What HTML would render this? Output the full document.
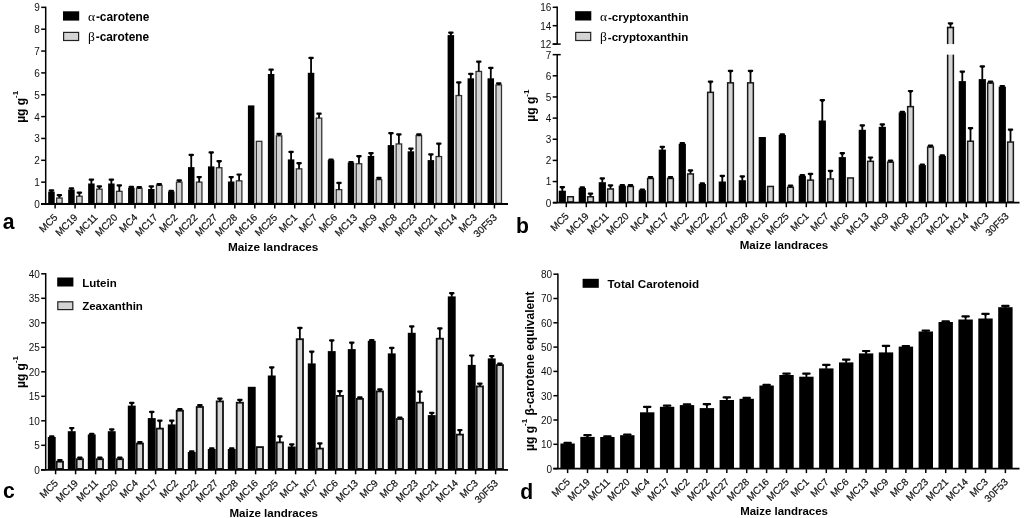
<!DOCTYPE html>
<html><head><meta charset="utf-8"><style>
html,body{margin:0;padding:0;background:#fff;}
body{width:1024px;height:518px;overflow:hidden;}
svg{display:block;will-change:transform;}
text{font-family:"Liberation Sans",sans-serif;fill:#000;}
.tk{font-size:10px;fill:#111;}
.xl{font-size:10px;fill:#111;stroke:#111;stroke-width:0.2px;}
.lg{font-size:12px;font-weight:bold;}
.sym{font-family:"Liberation Serif",serif;font-weight:normal;font-size:13.5px;}
.at{font-size:12px;font-weight:bold;}
.pl{font-size:22.5px;font-weight:bold;}
.yt{font-size:12px;font-weight:bold;}
.sup{font-size:8px;}
</style></head><body>
<svg width="1024" height="518" viewBox="0 0 1024 518">
<line x1="45.7" y1="6.65" x2="45.7" y2="204" stroke="#000" stroke-width="1.5"/>
<line x1="41.2" y1="204" x2="45.7" y2="204" stroke="#000" stroke-width="1.5"/>
<text x="39.9" y="207.9" class="tk" text-anchor="end">0</text>
<line x1="41.2" y1="182.15" x2="45.7" y2="182.15" stroke="#000" stroke-width="1.5"/>
<text x="39.9" y="186.05" class="tk" text-anchor="end">1</text>
<line x1="41.2" y1="160.3" x2="45.7" y2="160.3" stroke="#000" stroke-width="1.5"/>
<text x="39.9" y="164.2" class="tk" text-anchor="end">2</text>
<line x1="41.2" y1="138.45" x2="45.7" y2="138.45" stroke="#000" stroke-width="1.5"/>
<text x="39.9" y="142.35" class="tk" text-anchor="end">3</text>
<line x1="41.2" y1="116.6" x2="45.7" y2="116.6" stroke="#000" stroke-width="1.5"/>
<text x="39.9" y="120.5" class="tk" text-anchor="end">4</text>
<line x1="41.2" y1="94.75" x2="45.7" y2="94.75" stroke="#000" stroke-width="1.5"/>
<text x="39.9" y="98.65" class="tk" text-anchor="end">5</text>
<line x1="41.2" y1="72.9" x2="45.7" y2="72.9" stroke="#000" stroke-width="1.5"/>
<text x="39.9" y="76.8" class="tk" text-anchor="end">6</text>
<line x1="41.2" y1="51.05" x2="45.7" y2="51.05" stroke="#000" stroke-width="1.5"/>
<text x="39.9" y="54.95" class="tk" text-anchor="end">7</text>
<line x1="41.2" y1="29.2" x2="45.7" y2="29.2" stroke="#000" stroke-width="1.5"/>
<text x="39.9" y="33.1" class="tk" text-anchor="end">8</text>
<line x1="41.2" y1="7.35" x2="45.7" y2="7.35" stroke="#000" stroke-width="1.5"/>
<text x="39.9" y="11.25" class="tk" text-anchor="end">9</text>
<rect x="48.2" y="191.6" width="6.5" height="12.4" fill="#000"/>
<line x1="51.45" y1="192.1" x2="51.45" y2="190.4" stroke="#000" stroke-width="1.8"/>
<rect x="48.7" y="189.3" width="5.5" height="2.2" rx="1" fill="#000"/>
<path d="M49.75 191.3L53.15 191.3L52.35 192.1L50.55 192.1Z" fill="#000"/>
<rect x="56.65" y="198.05" width="5.5" height="5.3" fill="#d4d4d4" stroke="#333" stroke-width="1.3"/>
<line x1="59.4" y1="197.9" x2="59.4" y2="195.1" stroke="#000" stroke-width="1.8"/>
<rect x="56.65" y="194" width="5.5" height="2.2" rx="1" fill="#000"/>
<path d="M57.7 196L61.1 196L60.3 196.8L58.5 196.8Z" fill="#000"/>
<rect x="68.17" y="189.5" width="6.5" height="14.5" fill="#000"/>
<line x1="71.42" y1="190" x2="71.42" y2="188.3" stroke="#000" stroke-width="1.8"/>
<rect x="68.67" y="187.2" width="5.5" height="2.2" rx="1" fill="#000"/>
<path d="M69.72 189.2L73.12 189.2L72.32 190L70.52 190Z" fill="#000"/>
<rect x="76.62" y="196.25" width="5.5" height="7.1" fill="#d4d4d4" stroke="#333" stroke-width="1.3"/>
<line x1="79.37" y1="196.1" x2="79.37" y2="192.6" stroke="#000" stroke-width="1.8"/>
<rect x="76.62" y="191.5" width="5.5" height="2.2" rx="1" fill="#000"/>
<path d="M77.67 193.5L81.07 193.5L80.27 194.3L78.47 194.3Z" fill="#000"/>
<rect x="88.14" y="183.5" width="6.5" height="20.5" fill="#000"/>
<line x1="91.39" y1="184" x2="91.39" y2="179.6" stroke="#000" stroke-width="1.8"/>
<rect x="88.64" y="178.5" width="5.5" height="2.2" rx="1" fill="#000"/>
<path d="M89.69 180.5L93.09 180.5L92.29 181.3L90.49 181.3Z" fill="#000"/>
<rect x="96.59" y="189.15" width="5.5" height="14.2" fill="#d4d4d4" stroke="#333" stroke-width="1.3"/>
<line x1="99.34" y1="189" x2="99.34" y2="186.3" stroke="#000" stroke-width="1.8"/>
<rect x="96.59" y="185.2" width="5.5" height="2.2" rx="1" fill="#000"/>
<path d="M97.64 187.2L101.04 187.2L100.24 188L98.44 188Z" fill="#000"/>
<rect x="108.11" y="183.5" width="6.5" height="20.5" fill="#000"/>
<line x1="111.36" y1="184" x2="111.36" y2="179.6" stroke="#000" stroke-width="1.8"/>
<rect x="108.61" y="178.5" width="5.5" height="2.2" rx="1" fill="#000"/>
<path d="M109.66 180.5L113.06 180.5L112.26 181.3L110.46 181.3Z" fill="#000"/>
<rect x="116.56" y="191.35" width="5.5" height="12" fill="#d4d4d4" stroke="#333" stroke-width="1.3"/>
<line x1="119.31" y1="191.2" x2="119.31" y2="185.3" stroke="#000" stroke-width="1.8"/>
<rect x="116.56" y="184.2" width="5.5" height="2.2" rx="1" fill="#000"/>
<path d="M117.61 186.2L121.01 186.2L120.21 187L118.41 187Z" fill="#000"/>
<rect x="128.08" y="187.7" width="6.5" height="16.3" fill="#000"/>
<line x1="131.33" y1="188.2" x2="131.33" y2="186.8" stroke="#000" stroke-width="1.8"/>
<rect x="128.58" y="185.7" width="5.5" height="2.2" rx="1" fill="#000"/>
<path d="M129.63 187.7L133.03 187.7L132.23 188.5L130.43 188.5Z" fill="#000"/>
<rect x="136.53" y="188.35" width="5.5" height="15" fill="#d4d4d4" stroke="#333" stroke-width="1.3"/>
<line x1="139.28" y1="188.2" x2="139.28" y2="187.1" stroke="#000" stroke-width="1.8"/>
<rect x="136.53" y="186" width="5.5" height="2.2" rx="1" fill="#000"/>
<path d="M137.58 188L140.98 188L140.18 188.8L138.38 188.8Z" fill="#000"/>
<rect x="148.05" y="189" width="6.5" height="15" fill="#000"/>
<line x1="151.3" y1="189.5" x2="151.3" y2="186.3" stroke="#000" stroke-width="1.8"/>
<rect x="148.55" y="185.2" width="5.5" height="2.2" rx="1" fill="#000"/>
<path d="M149.6 187.2L153 187.2L152.2 188L150.4 188Z" fill="#000"/>
<rect x="156.5" y="185.35" width="5.5" height="18" fill="#d4d4d4" stroke="#333" stroke-width="1.3"/>
<line x1="159.25" y1="185.2" x2="159.25" y2="184.1" stroke="#000" stroke-width="1.8"/>
<rect x="156.5" y="183" width="5.5" height="2.2" rx="1" fill="#000"/>
<path d="M157.55 185L160.95 185L160.15 185.8L158.35 185.8Z" fill="#000"/>
<rect x="168.02" y="191.5" width="6.5" height="12.5" fill="#000"/>
<line x1="171.27" y1="192" x2="171.27" y2="190.9" stroke="#000" stroke-width="1.8"/>
<rect x="168.52" y="189.8" width="5.5" height="2.2" rx="1" fill="#000"/>
<path d="M169.57 191.8L172.97 191.8L172.17 192.6L170.37 192.6Z" fill="#000"/>
<rect x="176.47" y="182.15" width="5.5" height="21.2" fill="#d4d4d4" stroke="#333" stroke-width="1.3"/>
<line x1="179.22" y1="182" x2="179.22" y2="180.3" stroke="#000" stroke-width="1.8"/>
<rect x="176.47" y="179.2" width="5.5" height="2.2" rx="1" fill="#000"/>
<path d="M177.52 181.2L180.92 181.2L180.12 182L178.32 182Z" fill="#000"/>
<rect x="187.99" y="167.1" width="6.5" height="36.9" fill="#000"/>
<line x1="191.24" y1="167.6" x2="191.24" y2="154.9" stroke="#000" stroke-width="1.8"/>
<rect x="188.49" y="153.8" width="5.5" height="2.2" rx="1" fill="#000"/>
<path d="M189.54 155.8L192.94 155.8L192.14 156.6L190.34 156.6Z" fill="#000"/>
<rect x="196.44" y="182.15" width="5.5" height="21.2" fill="#d4d4d4" stroke="#333" stroke-width="1.3"/>
<line x1="199.19" y1="182" x2="199.19" y2="177" stroke="#000" stroke-width="1.8"/>
<rect x="196.44" y="175.9" width="5.5" height="2.2" rx="1" fill="#000"/>
<path d="M197.49 177.9L200.89 177.9L200.09 178.7L198.29 178.7Z" fill="#000"/>
<rect x="207.96" y="166.4" width="6.5" height="37.6" fill="#000"/>
<line x1="211.21" y1="166.9" x2="211.21" y2="152.4" stroke="#000" stroke-width="1.8"/>
<rect x="208.46" y="151.3" width="5.5" height="2.2" rx="1" fill="#000"/>
<path d="M209.51 153.3L212.91 153.3L212.11 154.1L210.31 154.1Z" fill="#000"/>
<rect x="216.41" y="167.75" width="5.5" height="35.6" fill="#d4d4d4" stroke="#333" stroke-width="1.3"/>
<line x1="219.16" y1="167.6" x2="219.16" y2="161.2" stroke="#000" stroke-width="1.8"/>
<rect x="216.41" y="160.1" width="5.5" height="2.2" rx="1" fill="#000"/>
<path d="M217.46 162.1L220.86 162.1L220.06 162.9L218.26 162.9Z" fill="#000"/>
<rect x="227.93" y="181.5" width="6.5" height="22.5" fill="#000"/>
<line x1="231.18" y1="182" x2="231.18" y2="177" stroke="#000" stroke-width="1.8"/>
<rect x="228.43" y="175.9" width="5.5" height="2.2" rx="1" fill="#000"/>
<path d="M229.48 177.9L232.88 177.9L232.08 178.7L230.28 178.7Z" fill="#000"/>
<rect x="236.38" y="180.85" width="5.5" height="22.5" fill="#d4d4d4" stroke="#333" stroke-width="1.3"/>
<line x1="239.13" y1="180.7" x2="239.13" y2="174.5" stroke="#000" stroke-width="1.8"/>
<rect x="236.38" y="173.4" width="5.5" height="2.2" rx="1" fill="#000"/>
<path d="M237.43 175.4L240.83 175.4L240.03 176.2L238.23 176.2Z" fill="#000"/>
<rect x="247.9" y="105.4" width="6.5" height="98.6" fill="#000"/>
<rect x="256.35" y="141.35" width="5.5" height="62" fill="#d4d4d4" stroke="#333" stroke-width="1.3"/>
<rect x="267.87" y="74" width="6.5" height="130" fill="#000"/>
<line x1="271.12" y1="74.5" x2="271.12" y2="69.6" stroke="#000" stroke-width="1.8"/>
<rect x="268.37" y="68.5" width="5.5" height="2.2" rx="1" fill="#000"/>
<path d="M269.42 70.5L272.82 70.5L272.02 71.3L270.22 71.3Z" fill="#000"/>
<rect x="276.32" y="135.85" width="5.5" height="67.5" fill="#d4d4d4" stroke="#333" stroke-width="1.3"/>
<line x1="279.07" y1="135.7" x2="279.07" y2="133.8" stroke="#000" stroke-width="1.8"/>
<rect x="276.32" y="132.7" width="5.5" height="2.2" rx="1" fill="#000"/>
<path d="M277.37 134.7L280.77 134.7L279.97 135.5L278.17 135.5Z" fill="#000"/>
<rect x="287.84" y="159.4" width="6.5" height="44.6" fill="#000"/>
<line x1="291.09" y1="159.9" x2="291.09" y2="151.9" stroke="#000" stroke-width="1.8"/>
<rect x="288.34" y="150.8" width="5.5" height="2.2" rx="1" fill="#000"/>
<path d="M289.39 152.8L292.79 152.8L291.99 153.6L290.19 153.6Z" fill="#000"/>
<rect x="296.29" y="168.85" width="5.5" height="34.5" fill="#d4d4d4" stroke="#333" stroke-width="1.3"/>
<line x1="299.04" y1="168.7" x2="299.04" y2="163.2" stroke="#000" stroke-width="1.8"/>
<rect x="296.29" y="162.1" width="5.5" height="2.2" rx="1" fill="#000"/>
<path d="M297.34 164.1L300.74 164.1L299.94 164.9L298.14 164.9Z" fill="#000"/>
<rect x="307.81" y="72.8" width="6.5" height="131.2" fill="#000"/>
<line x1="311.06" y1="73.3" x2="311.06" y2="57.8" stroke="#000" stroke-width="1.8"/>
<rect x="308.31" y="56.7" width="5.5" height="2.2" rx="1" fill="#000"/>
<path d="M309.36 58.7L312.76 58.7L311.96 59.5L310.16 59.5Z" fill="#000"/>
<rect x="316.26" y="118.15" width="5.5" height="85.2" fill="#d4d4d4" stroke="#333" stroke-width="1.3"/>
<line x1="319.01" y1="118" x2="319.01" y2="113.6" stroke="#000" stroke-width="1.8"/>
<rect x="316.26" y="112.5" width="5.5" height="2.2" rx="1" fill="#000"/>
<path d="M317.31 114.5L320.71 114.5L319.91 115.3L318.11 115.3Z" fill="#000"/>
<rect x="327.78" y="160.1" width="6.5" height="43.9" fill="#000"/>
<line x1="331.03" y1="160.6" x2="331.03" y2="159.5" stroke="#000" stroke-width="1.8"/>
<rect x="328.28" y="158.4" width="5.5" height="2.2" rx="1" fill="#000"/>
<path d="M329.33 160.4L332.73 160.4L331.93 161.2L330.13 161.2Z" fill="#000"/>
<rect x="336.23" y="189.65" width="5.5" height="13.7" fill="#d4d4d4" stroke="#333" stroke-width="1.3"/>
<line x1="338.98" y1="189.5" x2="338.98" y2="182.8" stroke="#000" stroke-width="1.8"/>
<rect x="336.23" y="181.7" width="5.5" height="2.2" rx="1" fill="#000"/>
<path d="M337.28 183.7L340.68 183.7L339.88 184.5L338.08 184.5Z" fill="#000"/>
<rect x="347.75" y="162.6" width="6.5" height="41.4" fill="#000"/>
<line x1="351" y1="163.1" x2="351" y2="162" stroke="#000" stroke-width="1.8"/>
<rect x="348.25" y="160.9" width="5.5" height="2.2" rx="1" fill="#000"/>
<path d="M349.3 162.9L352.7 162.9L351.9 163.7L350.1 163.7Z" fill="#000"/>
<rect x="356.2" y="163.75" width="5.5" height="39.6" fill="#d4d4d4" stroke="#333" stroke-width="1.3"/>
<line x1="358.95" y1="163.6" x2="358.95" y2="156.2" stroke="#000" stroke-width="1.8"/>
<rect x="356.2" y="155.1" width="5.5" height="2.2" rx="1" fill="#000"/>
<path d="M357.25 157.1L360.65 157.1L359.85 157.9L358.05 157.9Z" fill="#000"/>
<rect x="367.72" y="155.9" width="6.5" height="48.1" fill="#000"/>
<line x1="370.97" y1="156.4" x2="370.97" y2="153.2" stroke="#000" stroke-width="1.8"/>
<rect x="368.22" y="152.1" width="5.5" height="2.2" rx="1" fill="#000"/>
<path d="M369.27 154.1L372.67 154.1L371.87 154.9L370.07 154.9Z" fill="#000"/>
<rect x="376.17" y="179.65" width="5.5" height="23.7" fill="#d4d4d4" stroke="#333" stroke-width="1.3"/>
<line x1="378.92" y1="179.5" x2="378.92" y2="177.8" stroke="#000" stroke-width="1.8"/>
<rect x="376.17" y="176.7" width="5.5" height="2.2" rx="1" fill="#000"/>
<path d="M377.22 178.7L380.62 178.7L379.82 179.5L378.02 179.5Z" fill="#000"/>
<rect x="387.69" y="145.1" width="6.5" height="58.9" fill="#000"/>
<line x1="390.94" y1="145.6" x2="390.94" y2="133.1" stroke="#000" stroke-width="1.8"/>
<rect x="388.19" y="132" width="5.5" height="2.2" rx="1" fill="#000"/>
<path d="M389.24 134L392.64 134L391.84 134.8L390.04 134.8Z" fill="#000"/>
<rect x="396.14" y="143.95" width="5.5" height="59.4" fill="#d4d4d4" stroke="#333" stroke-width="1.3"/>
<line x1="398.89" y1="143.8" x2="398.89" y2="134.4" stroke="#000" stroke-width="1.8"/>
<rect x="396.14" y="133.3" width="5.5" height="2.2" rx="1" fill="#000"/>
<path d="M397.19 135.3L400.59 135.3L399.79 136.1L397.99 136.1Z" fill="#000"/>
<rect x="407.66" y="151.3" width="6.5" height="52.7" fill="#000"/>
<line x1="410.91" y1="151.8" x2="410.91" y2="148.7" stroke="#000" stroke-width="1.8"/>
<rect x="408.16" y="147.6" width="5.5" height="2.2" rx="1" fill="#000"/>
<path d="M409.21 149.6L412.61 149.6L411.81 150.4L410.01 150.4Z" fill="#000"/>
<rect x="416.11" y="135.65" width="5.5" height="67.7" fill="#d4d4d4" stroke="#333" stroke-width="1.3"/>
<line x1="418.86" y1="135.5" x2="418.86" y2="134.4" stroke="#000" stroke-width="1.8"/>
<rect x="416.11" y="133.3" width="5.5" height="2.2" rx="1" fill="#000"/>
<path d="M417.16 135.3L420.56 135.3L419.76 136.1L417.96 136.1Z" fill="#000"/>
<rect x="427.63" y="160.1" width="6.5" height="43.9" fill="#000"/>
<line x1="430.88" y1="160.6" x2="430.88" y2="154.4" stroke="#000" stroke-width="1.8"/>
<rect x="428.13" y="153.3" width="5.5" height="2.2" rx="1" fill="#000"/>
<path d="M429.18 155.3L432.58 155.3L431.78 156.1L429.98 156.1Z" fill="#000"/>
<rect x="436.08" y="156.55" width="5.5" height="46.8" fill="#d4d4d4" stroke="#333" stroke-width="1.3"/>
<line x1="438.83" y1="156.4" x2="438.83" y2="143.6" stroke="#000" stroke-width="1.8"/>
<rect x="436.08" y="142.5" width="5.5" height="2.2" rx="1" fill="#000"/>
<path d="M437.13 144.5L440.53 144.5L439.73 145.3L437.93 145.3Z" fill="#000"/>
<rect x="447.6" y="35.1" width="6.5" height="168.9" fill="#000"/>
<line x1="450.85" y1="35.6" x2="450.85" y2="32.7" stroke="#000" stroke-width="1.8"/>
<rect x="448.1" y="31.6" width="5.5" height="2.2" rx="1" fill="#000"/>
<path d="M449.15 33.6L452.55 33.6L451.75 34.4L449.95 34.4Z" fill="#000"/>
<rect x="456.05" y="95.55" width="5.5" height="107.8" fill="#d4d4d4" stroke="#333" stroke-width="1.3"/>
<line x1="458.8" y1="95.4" x2="458.8" y2="82.4" stroke="#000" stroke-width="1.8"/>
<rect x="456.05" y="81.3" width="5.5" height="2.2" rx="1" fill="#000"/>
<path d="M457.1 83.3L460.5 83.3L459.7 84.1L457.9 84.1Z" fill="#000"/>
<rect x="467.57" y="78.3" width="6.5" height="125.7" fill="#000"/>
<line x1="470.82" y1="78.8" x2="470.82" y2="73.9" stroke="#000" stroke-width="1.8"/>
<rect x="468.07" y="72.8" width="5.5" height="2.2" rx="1" fill="#000"/>
<path d="M469.12 74.8L472.52 74.8L471.72 75.6L469.92 75.6Z" fill="#000"/>
<rect x="476.02" y="71.45" width="5.5" height="131.9" fill="#d4d4d4" stroke="#333" stroke-width="1.3"/>
<line x1="478.77" y1="71.3" x2="478.77" y2="61.6" stroke="#000" stroke-width="1.8"/>
<rect x="476.02" y="60.5" width="5.5" height="2.2" rx="1" fill="#000"/>
<path d="M477.07 62.5L480.47 62.5L479.67 63.3L477.87 63.3Z" fill="#000"/>
<rect x="487.54" y="78.3" width="6.5" height="125.7" fill="#000"/>
<line x1="490.79" y1="78.8" x2="490.79" y2="67.9" stroke="#000" stroke-width="1.8"/>
<rect x="488.04" y="66.8" width="5.5" height="2.2" rx="1" fill="#000"/>
<path d="M489.09 68.8L492.49 68.8L491.69 69.6L489.89 69.6Z" fill="#000"/>
<rect x="495.99" y="84.95" width="5.5" height="118.4" fill="#d4d4d4" stroke="#333" stroke-width="1.3"/>
<line x1="498.74" y1="84.8" x2="498.74" y2="83.4" stroke="#000" stroke-width="1.8"/>
<rect x="495.99" y="82.3" width="5.5" height="2.2" rx="1" fill="#000"/>
<path d="M497.04 84.3L500.44 84.3L499.64 85.1L497.84 85.1Z" fill="#000"/>
<line x1="41" y1="204" x2="508" y2="204" stroke="#000" stroke-width="1.8"/>
<line x1="55.1" y1="204" x2="55.1" y2="208.5" stroke="#000" stroke-width="1.5"/>
<text x="58.3" y="218" class="xl" text-anchor="end" transform="rotate(-45 58.3 218)">MC5</text>
<line x1="75.07" y1="204" x2="75.07" y2="208.5" stroke="#000" stroke-width="1.5"/>
<text x="78.27" y="218" class="xl" text-anchor="end" transform="rotate(-45 78.27 218)">MC19</text>
<line x1="95.04" y1="204" x2="95.04" y2="208.5" stroke="#000" stroke-width="1.5"/>
<text x="98.24" y="218" class="xl" text-anchor="end" transform="rotate(-45 98.24 218)">MC11</text>
<line x1="115.01" y1="204" x2="115.01" y2="208.5" stroke="#000" stroke-width="1.5"/>
<text x="118.21" y="218" class="xl" text-anchor="end" transform="rotate(-45 118.21 218)">MC20</text>
<line x1="134.98" y1="204" x2="134.98" y2="208.5" stroke="#000" stroke-width="1.5"/>
<text x="138.18" y="218" class="xl" text-anchor="end" transform="rotate(-45 138.18 218)">MC4</text>
<line x1="154.95" y1="204" x2="154.95" y2="208.5" stroke="#000" stroke-width="1.5"/>
<text x="158.15" y="218" class="xl" text-anchor="end" transform="rotate(-45 158.15 218)">MC17</text>
<line x1="174.92" y1="204" x2="174.92" y2="208.5" stroke="#000" stroke-width="1.5"/>
<text x="178.12" y="218" class="xl" text-anchor="end" transform="rotate(-45 178.12 218)">MC2</text>
<line x1="194.89" y1="204" x2="194.89" y2="208.5" stroke="#000" stroke-width="1.5"/>
<text x="198.09" y="218" class="xl" text-anchor="end" transform="rotate(-45 198.09 218)">MC22</text>
<line x1="214.86" y1="204" x2="214.86" y2="208.5" stroke="#000" stroke-width="1.5"/>
<text x="218.06" y="218" class="xl" text-anchor="end" transform="rotate(-45 218.06 218)">MC27</text>
<line x1="234.83" y1="204" x2="234.83" y2="208.5" stroke="#000" stroke-width="1.5"/>
<text x="238.03" y="218" class="xl" text-anchor="end" transform="rotate(-45 238.03 218)">MC28</text>
<line x1="254.8" y1="204" x2="254.8" y2="208.5" stroke="#000" stroke-width="1.5"/>
<text x="258" y="218" class="xl" text-anchor="end" transform="rotate(-45 258 218)">MC16</text>
<line x1="274.77" y1="204" x2="274.77" y2="208.5" stroke="#000" stroke-width="1.5"/>
<text x="277.97" y="218" class="xl" text-anchor="end" transform="rotate(-45 277.97 218)">MC25</text>
<line x1="294.74" y1="204" x2="294.74" y2="208.5" stroke="#000" stroke-width="1.5"/>
<text x="297.94" y="218" class="xl" text-anchor="end" transform="rotate(-45 297.94 218)">MC1</text>
<line x1="314.71" y1="204" x2="314.71" y2="208.5" stroke="#000" stroke-width="1.5"/>
<text x="317.91" y="218" class="xl" text-anchor="end" transform="rotate(-45 317.91 218)">MC7</text>
<line x1="334.68" y1="204" x2="334.68" y2="208.5" stroke="#000" stroke-width="1.5"/>
<text x="337.88" y="218" class="xl" text-anchor="end" transform="rotate(-45 337.88 218)">MC6</text>
<line x1="354.65" y1="204" x2="354.65" y2="208.5" stroke="#000" stroke-width="1.5"/>
<text x="357.85" y="218" class="xl" text-anchor="end" transform="rotate(-45 357.85 218)">MC13</text>
<line x1="374.62" y1="204" x2="374.62" y2="208.5" stroke="#000" stroke-width="1.5"/>
<text x="377.82" y="218" class="xl" text-anchor="end" transform="rotate(-45 377.82 218)">MC9</text>
<line x1="394.59" y1="204" x2="394.59" y2="208.5" stroke="#000" stroke-width="1.5"/>
<text x="397.79" y="218" class="xl" text-anchor="end" transform="rotate(-45 397.79 218)">MC8</text>
<line x1="414.56" y1="204" x2="414.56" y2="208.5" stroke="#000" stroke-width="1.5"/>
<text x="417.76" y="218" class="xl" text-anchor="end" transform="rotate(-45 417.76 218)">MC23</text>
<line x1="434.53" y1="204" x2="434.53" y2="208.5" stroke="#000" stroke-width="1.5"/>
<text x="437.73" y="218" class="xl" text-anchor="end" transform="rotate(-45 437.73 218)">MC21</text>
<line x1="454.5" y1="204" x2="454.5" y2="208.5" stroke="#000" stroke-width="1.5"/>
<text x="457.7" y="218" class="xl" text-anchor="end" transform="rotate(-45 457.7 218)">MC14</text>
<line x1="474.47" y1="204" x2="474.47" y2="208.5" stroke="#000" stroke-width="1.5"/>
<text x="477.67" y="218" class="xl" text-anchor="end" transform="rotate(-45 477.67 218)">MC3</text>
<line x1="494.44" y1="204" x2="494.44" y2="208.5" stroke="#000" stroke-width="1.5"/>
<text x="497.64" y="218" class="xl" text-anchor="end" transform="rotate(-45 497.64 218)">30F53</text>
<rect x="63" y="11.3" width="16.2" height="9.3" fill="#000"/>
<text x="88" y="20.6" class="lg" style="font-size:11.9px"><tspan class="sym">α</tspan><tspan dx="0.8">-carotene</tspan></text>
<rect x="63.6" y="32.4" width="15.0" height="8.1" fill="#d4d4d4" stroke="#222" stroke-width="1.2"/>
<text x="88" y="41.1" class="lg" style="font-size:11.9px"><tspan class="sym">β</tspan><tspan dx="0.8">-carotene</tspan></text>
<text x="273.2" y="251.0" class="at" text-anchor="middle" style="font-size:11.8px">Maize landraces</text>
<text class="pl" transform="translate(2.8 229) scale(0.94 1)">a</text>
<text x="24.8" y="106.8" class="yt" text-anchor="middle" transform="rotate(-90 24.8 106.8)">µg g<tspan class="sup" dy="-6.6">-1</tspan><tspan dy="6.6"></tspan></text>
<line x1="557.2" y1="54.65" x2="557.2" y2="202.7" stroke="#000" stroke-width="1.5"/>
<line x1="552.7" y1="54.65" x2="560.7" y2="54.65" stroke="#000" stroke-width="1.5"/>
<line x1="552.7" y1="202.7" x2="557.2" y2="202.7" stroke="#000" stroke-width="1.5"/>
<text x="551.4" y="206.6" class="tk" text-anchor="end">0</text>
<line x1="552.7" y1="181.55" x2="557.2" y2="181.55" stroke="#000" stroke-width="1.5"/>
<text x="551.4" y="185.45" class="tk" text-anchor="end">1</text>
<line x1="552.7" y1="160.4" x2="557.2" y2="160.4" stroke="#000" stroke-width="1.5"/>
<text x="551.4" y="164.3" class="tk" text-anchor="end">2</text>
<line x1="552.7" y1="139.25" x2="557.2" y2="139.25" stroke="#000" stroke-width="1.5"/>
<text x="551.4" y="143.15" class="tk" text-anchor="end">3</text>
<line x1="552.7" y1="118.1" x2="557.2" y2="118.1" stroke="#000" stroke-width="1.5"/>
<text x="551.4" y="122" class="tk" text-anchor="end">4</text>
<line x1="552.7" y1="96.95" x2="557.2" y2="96.95" stroke="#000" stroke-width="1.5"/>
<text x="551.4" y="100.85" class="tk" text-anchor="end">5</text>
<line x1="552.7" y1="75.8" x2="557.2" y2="75.8" stroke="#000" stroke-width="1.5"/>
<text x="551.4" y="79.7" class="tk" text-anchor="end">6</text>
<text x="551.4" y="58.55" class="tk" text-anchor="end">7</text>
<line x1="557.2" y1="6.55" x2="557.2" y2="44.1" stroke="#000" stroke-width="1.5"/>
<line x1="552.7" y1="44.1" x2="560.7" y2="44.1" stroke="#000" stroke-width="1.5"/>
<line x1="552.7" y1="7.3" x2="557.2" y2="7.3" stroke="#000" stroke-width="1.5"/>
<text x="551.4" y="11.2" class="tk" text-anchor="end">16</text>
<line x1="552.7" y1="25.7" x2="557.2" y2="25.7" stroke="#000" stroke-width="1.5"/>
<text x="551.4" y="29.6" class="tk" text-anchor="end">14</text>
<line x1="552.7" y1="44.1" x2="557.2" y2="44.1" stroke="#000" stroke-width="1.5"/>
<text x="551.4" y="48" class="tk" text-anchor="end">12</text>
<rect x="558.7" y="190.7" width="7.2" height="12" fill="#000"/>
<line x1="562.3" y1="191.2" x2="562.3" y2="187.1" stroke="#000" stroke-width="1.8"/>
<rect x="559.55" y="186" width="5.5" height="2.2" rx="1" fill="#000"/>
<path d="M560.6 188L564 188L563.2 188.8L561.4 188.8Z" fill="#000"/>
<rect x="567.65" y="196.75" width="5.7" height="5.2" fill="#d4d4d4" stroke="#1a1a1a" stroke-width="1.5"/>
<rect x="578.7" y="188" width="7.2" height="14.7" fill="#000"/>
<line x1="582.3" y1="188.5" x2="582.3" y2="187.4" stroke="#000" stroke-width="1.8"/>
<rect x="579.55" y="186.3" width="5.5" height="2.2" rx="1" fill="#000"/>
<path d="M580.6 188.3L584 188.3L583.2 189.1L581.4 189.1Z" fill="#000"/>
<rect x="587.65" y="196.75" width="5.7" height="5.2" fill="#d4d4d4" stroke="#1a1a1a" stroke-width="1.5"/>
<line x1="590.5" y1="196.5" x2="590.5" y2="193.6" stroke="#000" stroke-width="1.8"/>
<rect x="587.75" y="192.5" width="5.5" height="2.2" rx="1" fill="#000"/>
<path d="M588.8 194.5L592.2 194.5L591.4 195.3L589.6 195.3Z" fill="#000"/>
<rect x="598.7" y="182.2" width="7.2" height="20.5" fill="#000"/>
<line x1="602.3" y1="182.7" x2="602.3" y2="178.3" stroke="#000" stroke-width="1.8"/>
<rect x="599.55" y="177.2" width="5.5" height="2.2" rx="1" fill="#000"/>
<path d="M600.6 179.2L604 179.2L603.2 180L601.4 180Z" fill="#000"/>
<rect x="607.65" y="188.95" width="5.7" height="13" fill="#d4d4d4" stroke="#1a1a1a" stroke-width="1.5"/>
<line x1="610.5" y1="188.7" x2="610.5" y2="185.3" stroke="#000" stroke-width="1.8"/>
<rect x="607.75" y="184.2" width="5.5" height="2.2" rx="1" fill="#000"/>
<path d="M608.8 186.2L612.2 186.2L611.4 187L609.6 187Z" fill="#000"/>
<rect x="618.7" y="185.7" width="7.2" height="17" fill="#000"/>
<line x1="622.3" y1="186.2" x2="622.3" y2="185.1" stroke="#000" stroke-width="1.8"/>
<rect x="619.55" y="184" width="5.5" height="2.2" rx="1" fill="#000"/>
<path d="M620.6 186L624 186L623.2 186.8L621.4 186.8Z" fill="#000"/>
<rect x="627.65" y="186.45" width="5.7" height="15.5" fill="#d4d4d4" stroke="#1a1a1a" stroke-width="1.5"/>
<line x1="630.5" y1="186.2" x2="630.5" y2="185.1" stroke="#000" stroke-width="1.8"/>
<rect x="627.75" y="184" width="5.5" height="2.2" rx="1" fill="#000"/>
<path d="M628.8 186L632.2 186L631.4 186.8L629.6 186.8Z" fill="#000"/>
<rect x="638.7" y="190.2" width="7.2" height="12.5" fill="#000"/>
<line x1="642.3" y1="190.7" x2="642.3" y2="189.6" stroke="#000" stroke-width="1.8"/>
<rect x="639.55" y="188.5" width="5.5" height="2.2" rx="1" fill="#000"/>
<path d="M640.6 190.5L644 190.5L643.2 191.3L641.4 191.3Z" fill="#000"/>
<rect x="647.65" y="178.45" width="5.7" height="23.5" fill="#d4d4d4" stroke="#1a1a1a" stroke-width="1.5"/>
<line x1="650.5" y1="178.2" x2="650.5" y2="177" stroke="#000" stroke-width="1.8"/>
<rect x="647.75" y="175.9" width="5.5" height="2.2" rx="1" fill="#000"/>
<path d="M648.8 177.9L652.2 177.9L651.4 178.7L649.6 178.7Z" fill="#000"/>
<rect x="658.7" y="149.6" width="7.2" height="53.1" fill="#000"/>
<line x1="662.3" y1="150.1" x2="662.3" y2="146.9" stroke="#000" stroke-width="1.8"/>
<rect x="659.55" y="145.8" width="5.5" height="2.2" rx="1" fill="#000"/>
<path d="M660.6 147.8L664 147.8L663.2 148.6L661.4 148.6Z" fill="#000"/>
<rect x="667.65" y="178.45" width="5.7" height="23.5" fill="#d4d4d4" stroke="#1a1a1a" stroke-width="1.5"/>
<line x1="670.5" y1="178.2" x2="670.5" y2="177" stroke="#000" stroke-width="1.8"/>
<rect x="667.75" y="175.9" width="5.5" height="2.2" rx="1" fill="#000"/>
<path d="M668.8 177.9L672.2 177.9L671.4 178.7L669.6 178.7Z" fill="#000"/>
<rect x="678.7" y="143.8" width="7.2" height="58.9" fill="#000"/>
<line x1="682.3" y1="144.3" x2="682.3" y2="143.1" stroke="#000" stroke-width="1.8"/>
<rect x="679.55" y="142" width="5.5" height="2.2" rx="1" fill="#000"/>
<path d="M680.6 144L684 144L683.2 144.8L681.4 144.8Z" fill="#000"/>
<rect x="687.65" y="173.95" width="5.7" height="28" fill="#d4d4d4" stroke="#1a1a1a" stroke-width="1.5"/>
<line x1="690.5" y1="173.7" x2="690.5" y2="170.3" stroke="#000" stroke-width="1.8"/>
<rect x="687.75" y="169.2" width="5.5" height="2.2" rx="1" fill="#000"/>
<path d="M688.8 171.2L692.2 171.2L691.4 172L689.6 172Z" fill="#000"/>
<rect x="698.7" y="184" width="7.2" height="18.7" fill="#000"/>
<line x1="702.3" y1="184.5" x2="702.3" y2="183.4" stroke="#000" stroke-width="1.8"/>
<rect x="699.55" y="182.3" width="5.5" height="2.2" rx="1" fill="#000"/>
<path d="M700.6 184.3L704 184.3L703.2 185.1L701.4 185.1Z" fill="#000"/>
<rect x="707.65" y="92.35" width="5.7" height="109.6" fill="#d4d4d4" stroke="#1a1a1a" stroke-width="1.5"/>
<line x1="710.5" y1="92.1" x2="710.5" y2="81.7" stroke="#000" stroke-width="1.8"/>
<rect x="707.75" y="80.6" width="5.5" height="2.2" rx="1" fill="#000"/>
<path d="M708.8 82.6L712.2 82.6L711.4 83.4L709.6 83.4Z" fill="#000"/>
<rect x="718.7" y="181.5" width="7.2" height="21.2" fill="#000"/>
<line x1="722.3" y1="182" x2="722.3" y2="175.8" stroke="#000" stroke-width="1.8"/>
<rect x="719.55" y="174.7" width="5.5" height="2.2" rx="1" fill="#000"/>
<path d="M720.6 176.7L724 176.7L723.2 177.5L721.4 177.5Z" fill="#000"/>
<rect x="727.65" y="82.85" width="5.7" height="119.1" fill="#d4d4d4" stroke="#1a1a1a" stroke-width="1.5"/>
<line x1="730.5" y1="82.6" x2="730.5" y2="70.9" stroke="#000" stroke-width="1.8"/>
<rect x="727.75" y="69.8" width="5.5" height="2.2" rx="1" fill="#000"/>
<path d="M728.8 71.8L732.2 71.8L731.4 72.6L729.6 72.6Z" fill="#000"/>
<rect x="738.7" y="180.2" width="7.2" height="22.5" fill="#000"/>
<line x1="742.3" y1="180.7" x2="742.3" y2="176.3" stroke="#000" stroke-width="1.8"/>
<rect x="739.55" y="175.2" width="5.5" height="2.2" rx="1" fill="#000"/>
<path d="M740.6 177.2L744 177.2L743.2 178L741.4 178Z" fill="#000"/>
<rect x="747.65" y="82.85" width="5.7" height="119.1" fill="#d4d4d4" stroke="#1a1a1a" stroke-width="1.5"/>
<line x1="750.5" y1="82.6" x2="750.5" y2="70.9" stroke="#000" stroke-width="1.8"/>
<rect x="747.75" y="69.8" width="5.5" height="2.2" rx="1" fill="#000"/>
<path d="M748.8 71.8L752.2 71.8L751.4 72.6L749.6 72.6Z" fill="#000"/>
<rect x="758.7" y="137" width="7.2" height="65.7" fill="#000"/>
<rect x="767.65" y="186.45" width="5.7" height="15.5" fill="#d4d4d4" stroke="#1a1a1a" stroke-width="1.5"/>
<rect x="778.7" y="135" width="7.2" height="67.7" fill="#000"/>
<line x1="782.3" y1="135.5" x2="782.3" y2="134.4" stroke="#000" stroke-width="1.8"/>
<rect x="779.55" y="133.3" width="5.5" height="2.2" rx="1" fill="#000"/>
<path d="M780.6 135.3L784 135.3L783.2 136.1L781.4 136.1Z" fill="#000"/>
<rect x="787.65" y="187.25" width="5.7" height="14.7" fill="#d4d4d4" stroke="#1a1a1a" stroke-width="1.5"/>
<line x1="790.5" y1="187" x2="790.5" y2="185.6" stroke="#000" stroke-width="1.8"/>
<rect x="787.75" y="184.5" width="5.5" height="2.2" rx="1" fill="#000"/>
<path d="M788.8 186.5L792.2 186.5L791.4 187.3L789.6 187.3Z" fill="#000"/>
<rect x="798.7" y="175.7" width="7.2" height="27" fill="#000"/>
<line x1="802.3" y1="176.2" x2="802.3" y2="175.1" stroke="#000" stroke-width="1.8"/>
<rect x="799.55" y="174" width="5.5" height="2.2" rx="1" fill="#000"/>
<path d="M800.6 176L804 176L803.2 176.8L801.4 176.8Z" fill="#000"/>
<rect x="807.65" y="180.15" width="5.7" height="21.8" fill="#d4d4d4" stroke="#1a1a1a" stroke-width="1.5"/>
<line x1="810.5" y1="179.9" x2="810.5" y2="173.8" stroke="#000" stroke-width="1.8"/>
<rect x="807.75" y="172.7" width="5.5" height="2.2" rx="1" fill="#000"/>
<path d="M808.8 174.7L812.2 174.7L811.4 175.5L809.6 175.5Z" fill="#000"/>
<rect x="818.7" y="120.5" width="7.2" height="82.2" fill="#000"/>
<line x1="822.3" y1="121" x2="822.3" y2="100.2" stroke="#000" stroke-width="1.8"/>
<rect x="819.55" y="99.1" width="5.5" height="2.2" rx="1" fill="#000"/>
<path d="M820.6 101.1L824 101.1L823.2 101.9L821.4 101.9Z" fill="#000"/>
<rect x="827.65" y="178.95" width="5.7" height="23" fill="#d4d4d4" stroke="#1a1a1a" stroke-width="1.5"/>
<line x1="830.5" y1="178.7" x2="830.5" y2="170.8" stroke="#000" stroke-width="1.8"/>
<rect x="827.75" y="169.7" width="5.5" height="2.2" rx="1" fill="#000"/>
<path d="M828.8 171.7L832.2 171.7L831.4 172.5L829.6 172.5Z" fill="#000"/>
<rect x="838.7" y="157.1" width="7.2" height="45.6" fill="#000"/>
<line x1="842.3" y1="157.6" x2="842.3" y2="153.2" stroke="#000" stroke-width="1.8"/>
<rect x="839.55" y="152.1" width="5.5" height="2.2" rx="1" fill="#000"/>
<path d="M840.6 154.1L844 154.1L843.2 154.9L841.4 154.9Z" fill="#000"/>
<rect x="847.65" y="177.95" width="5.7" height="24" fill="#d4d4d4" stroke="#1a1a1a" stroke-width="1.5"/>
<rect x="858.7" y="129.8" width="7.2" height="72.9" fill="#000"/>
<line x1="862.3" y1="130.3" x2="862.3" y2="125.3" stroke="#000" stroke-width="1.8"/>
<rect x="859.55" y="124.2" width="5.5" height="2.2" rx="1" fill="#000"/>
<path d="M860.6 126.2L864 126.2L863.2 127L861.4 127Z" fill="#000"/>
<rect x="867.65" y="161.35" width="5.7" height="40.6" fill="#d4d4d4" stroke="#1a1a1a" stroke-width="1.5"/>
<line x1="870.5" y1="161.1" x2="870.5" y2="157.5" stroke="#000" stroke-width="1.8"/>
<rect x="867.75" y="156.4" width="5.5" height="2.2" rx="1" fill="#000"/>
<path d="M868.8 158.4L872.2 158.4L871.4 159.2L869.6 159.2Z" fill="#000"/>
<rect x="878.7" y="126.8" width="7.2" height="75.9" fill="#000"/>
<line x1="882.3" y1="127.3" x2="882.3" y2="124.3" stroke="#000" stroke-width="1.8"/>
<rect x="879.55" y="123.2" width="5.5" height="2.2" rx="1" fill="#000"/>
<path d="M880.6 125.2L884 125.2L883.2 126L881.4 126Z" fill="#000"/>
<rect x="887.65" y="162.15" width="5.7" height="39.8" fill="#d4d4d4" stroke="#1a1a1a" stroke-width="1.5"/>
<line x1="890.5" y1="161.9" x2="890.5" y2="160.7" stroke="#000" stroke-width="1.8"/>
<rect x="887.75" y="159.6" width="5.5" height="2.2" rx="1" fill="#000"/>
<path d="M888.8 161.6L892.2 161.6L891.4 162.4L889.6 162.4Z" fill="#000"/>
<rect x="898.7" y="112.4" width="7.2" height="90.3" fill="#000"/>
<line x1="902.3" y1="112.9" x2="902.3" y2="111.8" stroke="#000" stroke-width="1.8"/>
<rect x="899.55" y="110.7" width="5.5" height="2.2" rx="1" fill="#000"/>
<path d="M900.6 112.7L904 112.7L903.2 113.5L901.4 113.5Z" fill="#000"/>
<rect x="907.65" y="106.65" width="5.7" height="95.3" fill="#d4d4d4" stroke="#1a1a1a" stroke-width="1.5"/>
<line x1="910.5" y1="106.4" x2="910.5" y2="91" stroke="#000" stroke-width="1.8"/>
<rect x="907.75" y="89.9" width="5.5" height="2.2" rx="1" fill="#000"/>
<path d="M908.8 91.9L912.2 91.9L911.4 92.7L909.6 92.7Z" fill="#000"/>
<rect x="918.7" y="165.1" width="7.2" height="37.6" fill="#000"/>
<line x1="922.3" y1="165.6" x2="922.3" y2="164.5" stroke="#000" stroke-width="1.8"/>
<rect x="919.55" y="163.4" width="5.5" height="2.2" rx="1" fill="#000"/>
<path d="M920.6 165.4L924 165.4L923.2 166.2L921.4 166.2Z" fill="#000"/>
<rect x="927.65" y="147.05" width="5.7" height="54.9" fill="#d4d4d4" stroke="#1a1a1a" stroke-width="1.5"/>
<line x1="930.5" y1="146.8" x2="930.5" y2="145.7" stroke="#000" stroke-width="1.8"/>
<rect x="927.75" y="144.6" width="5.5" height="2.2" rx="1" fill="#000"/>
<path d="M928.8 146.6L932.2 146.6L931.4 147.4L929.6 147.4Z" fill="#000"/>
<rect x="938.7" y="155.9" width="7.2" height="46.8" fill="#000"/>
<line x1="942.3" y1="156.4" x2="942.3" y2="155.3" stroke="#000" stroke-width="1.8"/>
<rect x="939.55" y="154.2" width="5.5" height="2.2" rx="1" fill="#000"/>
<path d="M940.6 156.2L944 156.2L943.2 157L941.4 157Z" fill="#000"/>
<rect x="946.9" y="54.65" width="7.2" height="148.05" fill="#d4d4d4"/>
<rect x="946.9" y="26.8" width="7.2" height="17.3" fill="#d4d4d4"/>
<line x1="947.65" y1="54.65" x2="947.65" y2="202.7" stroke="#111" stroke-width="1.5"/>
<line x1="947.65" y1="26.8" x2="947.65" y2="44.1" stroke="#111" stroke-width="1.5"/>
<line x1="953.35" y1="54.65" x2="953.35" y2="202.7" stroke="#111" stroke-width="1.5"/>
<line x1="953.35" y1="26.8" x2="953.35" y2="44.1" stroke="#111" stroke-width="1.5"/>
<line x1="946.9" y1="27.55" x2="954.1" y2="27.55" stroke="#111" stroke-width="1.5"/>
<line x1="950.5" y1="27.3" x2="950.5" y2="23.3" stroke="#000" stroke-width="1.8"/>
<rect x="947.75" y="22.2" width="5.5" height="2.2" rx="1" fill="#000"/>
<path d="M948.8 24.2L952.2 24.2L951.4 25L949.6 25Z" fill="#000"/>
<rect x="958.7" y="81.1" width="7.2" height="121.6" fill="#000"/>
<line x1="962.3" y1="81.6" x2="962.3" y2="71.6" stroke="#000" stroke-width="1.8"/>
<rect x="959.55" y="70.5" width="5.5" height="2.2" rx="1" fill="#000"/>
<path d="M960.6 72.5L964 72.5L963.2 73.3L961.4 73.3Z" fill="#000"/>
<rect x="967.65" y="141.25" width="5.7" height="60.7" fill="#d4d4d4" stroke="#1a1a1a" stroke-width="1.5"/>
<line x1="970.5" y1="141" x2="970.5" y2="128.1" stroke="#000" stroke-width="1.8"/>
<rect x="967.75" y="127" width="5.5" height="2.2" rx="1" fill="#000"/>
<path d="M968.8 129L972.2 129L971.4 129.8L969.6 129.8Z" fill="#000"/>
<rect x="978.7" y="79.1" width="7.2" height="123.6" fill="#000"/>
<line x1="982.3" y1="79.6" x2="982.3" y2="66.4" stroke="#000" stroke-width="1.8"/>
<rect x="979.55" y="65.3" width="5.5" height="2.2" rx="1" fill="#000"/>
<path d="M980.6 67.3L984 67.3L983.2 68.1L981.4 68.1Z" fill="#000"/>
<rect x="987.65" y="83.05" width="5.7" height="118.9" fill="#d4d4d4" stroke="#1a1a1a" stroke-width="1.5"/>
<line x1="990.5" y1="82.8" x2="990.5" y2="81.7" stroke="#000" stroke-width="1.8"/>
<rect x="987.75" y="80.6" width="5.5" height="2.2" rx="1" fill="#000"/>
<path d="M988.8 82.6L992.2 82.6L991.4 83.4L989.6 83.4Z" fill="#000"/>
<rect x="998.7" y="86.6" width="7.2" height="116.1" fill="#000"/>
<line x1="1002.3" y1="87.1" x2="1002.3" y2="86" stroke="#000" stroke-width="1.8"/>
<rect x="999.55" y="84.9" width="5.5" height="2.2" rx="1" fill="#000"/>
<path d="M1000.6 86.9L1004 86.9L1003.2 87.7L1001.4 87.7Z" fill="#000"/>
<rect x="1007.65" y="142.05" width="5.7" height="59.9" fill="#d4d4d4" stroke="#1a1a1a" stroke-width="1.5"/>
<line x1="1010.5" y1="141.8" x2="1010.5" y2="129.6" stroke="#000" stroke-width="1.8"/>
<rect x="1007.75" y="128.5" width="5.5" height="2.2" rx="1" fill="#000"/>
<path d="M1008.8 130.5L1012.2 130.5L1011.4 131.3L1009.6 131.3Z" fill="#000"/>
<line x1="553" y1="202.7" x2="1019.5" y2="202.7" stroke="#000" stroke-width="1.8"/>
<line x1="566.3" y1="202.7" x2="566.3" y2="207.2" stroke="#000" stroke-width="1.5"/>
<text x="569.5" y="216.7" class="xl" text-anchor="end" transform="rotate(-45 569.5 216.7)">MC5</text>
<line x1="586.3" y1="202.7" x2="586.3" y2="207.2" stroke="#000" stroke-width="1.5"/>
<text x="589.5" y="216.7" class="xl" text-anchor="end" transform="rotate(-45 589.5 216.7)">MC19</text>
<line x1="606.3" y1="202.7" x2="606.3" y2="207.2" stroke="#000" stroke-width="1.5"/>
<text x="609.5" y="216.7" class="xl" text-anchor="end" transform="rotate(-45 609.5 216.7)">MC11</text>
<line x1="626.3" y1="202.7" x2="626.3" y2="207.2" stroke="#000" stroke-width="1.5"/>
<text x="629.5" y="216.7" class="xl" text-anchor="end" transform="rotate(-45 629.5 216.7)">MC20</text>
<line x1="646.3" y1="202.7" x2="646.3" y2="207.2" stroke="#000" stroke-width="1.5"/>
<text x="649.5" y="216.7" class="xl" text-anchor="end" transform="rotate(-45 649.5 216.7)">MC4</text>
<line x1="666.3" y1="202.7" x2="666.3" y2="207.2" stroke="#000" stroke-width="1.5"/>
<text x="669.5" y="216.7" class="xl" text-anchor="end" transform="rotate(-45 669.5 216.7)">MC17</text>
<line x1="686.3" y1="202.7" x2="686.3" y2="207.2" stroke="#000" stroke-width="1.5"/>
<text x="689.5" y="216.7" class="xl" text-anchor="end" transform="rotate(-45 689.5 216.7)">MC2</text>
<line x1="706.3" y1="202.7" x2="706.3" y2="207.2" stroke="#000" stroke-width="1.5"/>
<text x="709.5" y="216.7" class="xl" text-anchor="end" transform="rotate(-45 709.5 216.7)">MC22</text>
<line x1="726.3" y1="202.7" x2="726.3" y2="207.2" stroke="#000" stroke-width="1.5"/>
<text x="729.5" y="216.7" class="xl" text-anchor="end" transform="rotate(-45 729.5 216.7)">MC27</text>
<line x1="746.3" y1="202.7" x2="746.3" y2="207.2" stroke="#000" stroke-width="1.5"/>
<text x="749.5" y="216.7" class="xl" text-anchor="end" transform="rotate(-45 749.5 216.7)">MC28</text>
<line x1="766.3" y1="202.7" x2="766.3" y2="207.2" stroke="#000" stroke-width="1.5"/>
<text x="769.5" y="216.7" class="xl" text-anchor="end" transform="rotate(-45 769.5 216.7)">MC16</text>
<line x1="786.3" y1="202.7" x2="786.3" y2="207.2" stroke="#000" stroke-width="1.5"/>
<text x="789.5" y="216.7" class="xl" text-anchor="end" transform="rotate(-45 789.5 216.7)">MC25</text>
<line x1="806.3" y1="202.7" x2="806.3" y2="207.2" stroke="#000" stroke-width="1.5"/>
<text x="809.5" y="216.7" class="xl" text-anchor="end" transform="rotate(-45 809.5 216.7)">MC1</text>
<line x1="826.3" y1="202.7" x2="826.3" y2="207.2" stroke="#000" stroke-width="1.5"/>
<text x="829.5" y="216.7" class="xl" text-anchor="end" transform="rotate(-45 829.5 216.7)">MC7</text>
<line x1="846.3" y1="202.7" x2="846.3" y2="207.2" stroke="#000" stroke-width="1.5"/>
<text x="849.5" y="216.7" class="xl" text-anchor="end" transform="rotate(-45 849.5 216.7)">MC6</text>
<line x1="866.3" y1="202.7" x2="866.3" y2="207.2" stroke="#000" stroke-width="1.5"/>
<text x="869.5" y="216.7" class="xl" text-anchor="end" transform="rotate(-45 869.5 216.7)">MC13</text>
<line x1="886.3" y1="202.7" x2="886.3" y2="207.2" stroke="#000" stroke-width="1.5"/>
<text x="889.5" y="216.7" class="xl" text-anchor="end" transform="rotate(-45 889.5 216.7)">MC9</text>
<line x1="906.3" y1="202.7" x2="906.3" y2="207.2" stroke="#000" stroke-width="1.5"/>
<text x="909.5" y="216.7" class="xl" text-anchor="end" transform="rotate(-45 909.5 216.7)">MC8</text>
<line x1="926.3" y1="202.7" x2="926.3" y2="207.2" stroke="#000" stroke-width="1.5"/>
<text x="929.5" y="216.7" class="xl" text-anchor="end" transform="rotate(-45 929.5 216.7)">MC23</text>
<line x1="946.3" y1="202.7" x2="946.3" y2="207.2" stroke="#000" stroke-width="1.5"/>
<text x="949.5" y="216.7" class="xl" text-anchor="end" transform="rotate(-45 949.5 216.7)">MC21</text>
<line x1="966.3" y1="202.7" x2="966.3" y2="207.2" stroke="#000" stroke-width="1.5"/>
<text x="969.5" y="216.7" class="xl" text-anchor="end" transform="rotate(-45 969.5 216.7)">MC14</text>
<line x1="986.3" y1="202.7" x2="986.3" y2="207.2" stroke="#000" stroke-width="1.5"/>
<text x="989.5" y="216.7" class="xl" text-anchor="end" transform="rotate(-45 989.5 216.7)">MC3</text>
<line x1="1006.3" y1="202.7" x2="1006.3" y2="207.2" stroke="#000" stroke-width="1.5"/>
<text x="1009.5" y="216.7" class="xl" text-anchor="end" transform="rotate(-45 1009.5 216.7)">30F53</text>
<rect x="575.1" y="11.2" width="16.2" height="9.3" fill="#000"/>
<text x="600.1" y="20.5" class="lg" style="font-size:11.6px"><tspan class="sym">α</tspan><tspan dx="0.8">-cryptoxanthin</tspan></text>
<rect x="575.7" y="32.4" width="15.0" height="8.1" fill="#d4d4d4" stroke="#222" stroke-width="1.2"/>
<text x="600.1" y="41.1" class="lg" style="font-size:11.6px"><tspan class="sym">β</tspan><tspan dx="0.8">-cryptoxanthin</tspan></text>
<text x="784.0" y="249.2" class="at" text-anchor="middle" style="font-size:11.55px">Maize landraces</text>
<text class="pl" transform="translate(516 232.8) scale(0.94 1)">b</text>
<text x="535.5" y="105.6" class="yt" text-anchor="middle" transform="rotate(-90 535.5 105.6)">µg g<tspan class="sup" dy="-6.6">-1</tspan><tspan dy="6.6"></tspan></text>
<line x1="45.7" y1="273.05" x2="45.7" y2="469.8" stroke="#000" stroke-width="1.5"/>
<line x1="41.2" y1="469.8" x2="45.7" y2="469.8" stroke="#000" stroke-width="1.5"/>
<text x="39.9" y="473.7" class="tk" text-anchor="end">0</text>
<line x1="41.2" y1="445.3" x2="45.7" y2="445.3" stroke="#000" stroke-width="1.5"/>
<text x="39.9" y="449.2" class="tk" text-anchor="end">5</text>
<line x1="41.2" y1="420.8" x2="45.7" y2="420.8" stroke="#000" stroke-width="1.5"/>
<text x="39.9" y="424.7" class="tk" text-anchor="end">10</text>
<line x1="41.2" y1="396.3" x2="45.7" y2="396.3" stroke="#000" stroke-width="1.5"/>
<text x="39.9" y="400.2" class="tk" text-anchor="end">15</text>
<line x1="41.2" y1="371.8" x2="45.7" y2="371.8" stroke="#000" stroke-width="1.5"/>
<text x="39.9" y="375.7" class="tk" text-anchor="end">20</text>
<line x1="41.2" y1="347.3" x2="45.7" y2="347.3" stroke="#000" stroke-width="1.5"/>
<text x="39.9" y="351.2" class="tk" text-anchor="end">25</text>
<line x1="41.2" y1="322.8" x2="45.7" y2="322.8" stroke="#000" stroke-width="1.5"/>
<text x="39.9" y="326.7" class="tk" text-anchor="end">30</text>
<line x1="41.2" y1="298.3" x2="45.7" y2="298.3" stroke="#000" stroke-width="1.5"/>
<text x="39.9" y="302.2" class="tk" text-anchor="end">35</text>
<line x1="41.2" y1="273.8" x2="45.7" y2="273.8" stroke="#000" stroke-width="1.5"/>
<text x="39.9" y="277.7" class="tk" text-anchor="end">40</text>
<rect x="47.8" y="437" width="7.9" height="32.8" fill="#000"/>
<line x1="51.75" y1="437.5" x2="51.75" y2="436.4" stroke="#000" stroke-width="1.8"/>
<rect x="49" y="435.3" width="5.5" height="2.2" rx="1" fill="#000"/>
<path d="M50.05 437.3L53.45 437.3L52.65 438.1L50.85 438.1Z" fill="#000"/>
<rect x="56.7" y="461.7" width="6.3" height="7.2" fill="#d4d4d4" stroke="#111" stroke-width="1.8"/>
<line x1="59.85" y1="461.3" x2="59.85" y2="460.2" stroke="#000" stroke-width="1.8"/>
<rect x="57.1" y="459.1" width="5.5" height="2.2" rx="1" fill="#000"/>
<path d="M58.15 461.1L61.55 461.1L60.75 461.9L58.95 461.9Z" fill="#000"/>
<rect x="67.8" y="431.2" width="7.9" height="38.6" fill="#000"/>
<line x1="71.75" y1="431.7" x2="71.75" y2="428" stroke="#000" stroke-width="1.8"/>
<rect x="69" y="426.9" width="5.5" height="2.2" rx="1" fill="#000"/>
<path d="M70.05 428.9L73.45 428.9L72.65 429.7L70.85 429.7Z" fill="#000"/>
<rect x="76.7" y="459.2" width="6.3" height="9.7" fill="#d4d4d4" stroke="#111" stroke-width="1.8"/>
<line x1="79.85" y1="458.8" x2="79.85" y2="457.7" stroke="#000" stroke-width="1.8"/>
<rect x="77.1" y="456.6" width="5.5" height="2.2" rx="1" fill="#000"/>
<path d="M78.15 458.6L81.55 458.6L80.75 459.4L78.95 459.4Z" fill="#000"/>
<rect x="87.8" y="434.4" width="7.9" height="35.4" fill="#000"/>
<line x1="91.75" y1="434.9" x2="91.75" y2="433.8" stroke="#000" stroke-width="1.8"/>
<rect x="89" y="432.7" width="5.5" height="2.2" rx="1" fill="#000"/>
<path d="M90.05 434.7L93.45 434.7L92.65 435.5L90.85 435.5Z" fill="#000"/>
<rect x="96.7" y="459.2" width="6.3" height="9.7" fill="#d4d4d4" stroke="#111" stroke-width="1.8"/>
<line x1="99.85" y1="458.8" x2="99.85" y2="457.7" stroke="#000" stroke-width="1.8"/>
<rect x="97.1" y="456.6" width="5.5" height="2.2" rx="1" fill="#000"/>
<path d="M98.15 458.6L101.55 458.6L100.75 459.4L98.95 459.4Z" fill="#000"/>
<rect x="107.8" y="431.2" width="7.9" height="38.6" fill="#000"/>
<line x1="111.75" y1="431.7" x2="111.75" y2="429.3" stroke="#000" stroke-width="1.8"/>
<rect x="109" y="428.2" width="5.5" height="2.2" rx="1" fill="#000"/>
<path d="M110.05 430.2L113.45 430.2L112.65 431L110.85 431Z" fill="#000"/>
<rect x="116.7" y="459.2" width="6.3" height="9.7" fill="#d4d4d4" stroke="#111" stroke-width="1.8"/>
<line x1="119.85" y1="458.8" x2="119.85" y2="457.6" stroke="#000" stroke-width="1.8"/>
<rect x="117.1" y="456.5" width="5.5" height="2.2" rx="1" fill="#000"/>
<path d="M118.15 458.5L121.55 458.5L120.75 459.3L118.95 459.3Z" fill="#000"/>
<rect x="127.8" y="405.6" width="7.9" height="64.2" fill="#000"/>
<line x1="131.75" y1="406.1" x2="131.75" y2="402.9" stroke="#000" stroke-width="1.8"/>
<rect x="129" y="401.8" width="5.5" height="2.2" rx="1" fill="#000"/>
<path d="M130.05 403.8L133.45 403.8L132.65 404.6L130.85 404.6Z" fill="#000"/>
<rect x="136.7" y="443.6" width="6.3" height="25.3" fill="#d4d4d4" stroke="#111" stroke-width="1.8"/>
<line x1="139.85" y1="443.2" x2="139.85" y2="442.1" stroke="#000" stroke-width="1.8"/>
<rect x="137.1" y="441" width="5.5" height="2.2" rx="1" fill="#000"/>
<path d="M138.15 443L141.55 443L140.75 443.8L138.95 443.8Z" fill="#000"/>
<rect x="147.8" y="418.1" width="7.9" height="51.7" fill="#000"/>
<line x1="151.75" y1="418.6" x2="151.75" y2="411.9" stroke="#000" stroke-width="1.8"/>
<rect x="149" y="410.8" width="5.5" height="2.2" rx="1" fill="#000"/>
<path d="M150.05 412.8L153.45 412.8L152.65 413.6L150.85 413.6Z" fill="#000"/>
<rect x="156.7" y="428.6" width="6.3" height="40.3" fill="#d4d4d4" stroke="#111" stroke-width="1.8"/>
<line x1="159.85" y1="428.2" x2="159.85" y2="420.7" stroke="#000" stroke-width="1.8"/>
<rect x="157.1" y="419.6" width="5.5" height="2.2" rx="1" fill="#000"/>
<path d="M158.15 421.6L161.55 421.6L160.75 422.4L158.95 422.4Z" fill="#000"/>
<rect x="167.8" y="424.4" width="7.9" height="45.4" fill="#000"/>
<line x1="171.75" y1="424.9" x2="171.75" y2="420.7" stroke="#000" stroke-width="1.8"/>
<rect x="169" y="419.6" width="5.5" height="2.2" rx="1" fill="#000"/>
<path d="M170.05 421.6L173.45 421.6L172.65 422.4L170.85 422.4Z" fill="#000"/>
<rect x="176.7" y="410.7" width="6.3" height="58.2" fill="#d4d4d4" stroke="#111" stroke-width="1.8"/>
<line x1="179.85" y1="410.3" x2="179.85" y2="409.2" stroke="#000" stroke-width="1.8"/>
<rect x="177.1" y="408.1" width="5.5" height="2.2" rx="1" fill="#000"/>
<path d="M178.15 410.1L181.55 410.1L180.75 410.9L178.95 410.9Z" fill="#000"/>
<rect x="187.8" y="452" width="7.9" height="17.8" fill="#000"/>
<line x1="191.75" y1="452.5" x2="191.75" y2="451.4" stroke="#000" stroke-width="1.8"/>
<rect x="189" y="450.3" width="5.5" height="2.2" rx="1" fill="#000"/>
<path d="M190.05 452.3L193.45 452.3L192.65 453.1L190.85 453.1Z" fill="#000"/>
<rect x="196.7" y="407" width="6.3" height="61.9" fill="#d4d4d4" stroke="#111" stroke-width="1.8"/>
<line x1="199.85" y1="406.6" x2="199.85" y2="405.2" stroke="#000" stroke-width="1.8"/>
<rect x="197.1" y="404.1" width="5.5" height="2.2" rx="1" fill="#000"/>
<path d="M198.15 406.1L201.55 406.1L200.75 406.9L198.95 406.9Z" fill="#000"/>
<rect x="207.8" y="449" width="7.9" height="20.8" fill="#000"/>
<line x1="211.75" y1="449.5" x2="211.75" y2="448.4" stroke="#000" stroke-width="1.8"/>
<rect x="209" y="447.3" width="5.5" height="2.2" rx="1" fill="#000"/>
<path d="M210.05 449.3L213.45 449.3L212.65 450.1L210.85 450.1Z" fill="#000"/>
<rect x="216.7" y="401.4" width="6.3" height="67.5" fill="#d4d4d4" stroke="#111" stroke-width="1.8"/>
<line x1="219.85" y1="401" x2="219.85" y2="398.6" stroke="#000" stroke-width="1.8"/>
<rect x="217.1" y="397.5" width="5.5" height="2.2" rx="1" fill="#000"/>
<path d="M218.15 399.5L221.55 399.5L220.75 400.3L218.95 400.3Z" fill="#000"/>
<rect x="227.8" y="449" width="7.9" height="20.8" fill="#000"/>
<line x1="231.75" y1="449.5" x2="231.75" y2="448.4" stroke="#000" stroke-width="1.8"/>
<rect x="229" y="447.3" width="5.5" height="2.2" rx="1" fill="#000"/>
<path d="M230.05 449.3L233.45 449.3L232.65 450.1L230.85 450.1Z" fill="#000"/>
<rect x="236.7" y="402.7" width="6.3" height="66.2" fill="#d4d4d4" stroke="#111" stroke-width="1.8"/>
<line x1="239.85" y1="402.3" x2="239.85" y2="399.9" stroke="#000" stroke-width="1.8"/>
<rect x="237.1" y="398.8" width="5.5" height="2.2" rx="1" fill="#000"/>
<path d="M238.15 400.8L241.55 400.8L240.75 401.6L238.95 401.6Z" fill="#000"/>
<rect x="247.8" y="386.8" width="7.9" height="83" fill="#000"/>
<rect x="256.7" y="447.1" width="6.3" height="21.8" fill="#d4d4d4" stroke="#111" stroke-width="1.8"/>
<rect x="267.8" y="375.5" width="7.9" height="94.3" fill="#000"/>
<line x1="271.75" y1="376" x2="271.75" y2="367.3" stroke="#000" stroke-width="1.8"/>
<rect x="269" y="366.2" width="5.5" height="2.2" rx="1" fill="#000"/>
<path d="M270.05 368.2L273.45 368.2L272.65 369L270.85 369Z" fill="#000"/>
<rect x="276.7" y="442.4" width="6.3" height="26.5" fill="#d4d4d4" stroke="#111" stroke-width="1.8"/>
<line x1="279.85" y1="442" x2="279.85" y2="436.3" stroke="#000" stroke-width="1.8"/>
<rect x="277.1" y="435.2" width="5.5" height="2.2" rx="1" fill="#000"/>
<path d="M278.15 437.2L281.55 437.2L280.75 438L278.95 438Z" fill="#000"/>
<rect x="287.8" y="446.5" width="7.9" height="23.3" fill="#000"/>
<line x1="291.75" y1="447" x2="291.75" y2="444.3" stroke="#000" stroke-width="1.8"/>
<rect x="289" y="443.2" width="5.5" height="2.2" rx="1" fill="#000"/>
<path d="M290.05 445.2L293.45 445.2L292.65 446L290.85 446Z" fill="#000"/>
<rect x="296.7" y="339.2" width="6.3" height="129.7" fill="#d4d4d4" stroke="#111" stroke-width="1.8"/>
<line x1="299.85" y1="338.8" x2="299.85" y2="327.9" stroke="#000" stroke-width="1.8"/>
<rect x="297.1" y="326.8" width="5.5" height="2.2" rx="1" fill="#000"/>
<path d="M298.15 328.8L301.55 328.8L300.75 329.6L298.95 329.6Z" fill="#000"/>
<rect x="307.8" y="363.4" width="7.9" height="106.4" fill="#000"/>
<line x1="311.75" y1="363.9" x2="311.75" y2="351.7" stroke="#000" stroke-width="1.8"/>
<rect x="309" y="350.6" width="5.5" height="2.2" rx="1" fill="#000"/>
<path d="M310.05 352.6L313.45 352.6L312.65 353.4L310.85 353.4Z" fill="#000"/>
<rect x="316.7" y="448.6" width="6.3" height="20.3" fill="#d4d4d4" stroke="#111" stroke-width="1.8"/>
<line x1="319.85" y1="448.2" x2="319.85" y2="443.3" stroke="#000" stroke-width="1.8"/>
<rect x="317.1" y="442.2" width="5.5" height="2.2" rx="1" fill="#000"/>
<path d="M318.15 444.2L321.55 444.2L320.75 445L318.95 445Z" fill="#000"/>
<rect x="327.8" y="351.1" width="7.9" height="118.7" fill="#000"/>
<line x1="331.75" y1="351.6" x2="331.75" y2="340.4" stroke="#000" stroke-width="1.8"/>
<rect x="329" y="339.3" width="5.5" height="2.2" rx="1" fill="#000"/>
<path d="M330.05 341.3L333.45 341.3L332.65 342.1L330.85 342.1Z" fill="#000"/>
<rect x="336.7" y="395.9" width="6.3" height="73" fill="#d4d4d4" stroke="#111" stroke-width="1.8"/>
<line x1="339.85" y1="395.5" x2="339.85" y2="391.1" stroke="#000" stroke-width="1.8"/>
<rect x="337.1" y="390" width="5.5" height="2.2" rx="1" fill="#000"/>
<path d="M338.15 392L341.55 392L340.75 392.8L338.95 392.8Z" fill="#000"/>
<rect x="347.8" y="349.1" width="7.9" height="120.7" fill="#000"/>
<line x1="351.75" y1="349.6" x2="351.75" y2="342.7" stroke="#000" stroke-width="1.8"/>
<rect x="349" y="341.6" width="5.5" height="2.2" rx="1" fill="#000"/>
<path d="M350.05 343.6L353.45 343.6L352.65 344.4L350.85 344.4Z" fill="#000"/>
<rect x="356.7" y="398.9" width="6.3" height="70" fill="#d4d4d4" stroke="#111" stroke-width="1.8"/>
<line x1="359.85" y1="398.5" x2="359.85" y2="397.4" stroke="#000" stroke-width="1.8"/>
<rect x="357.1" y="396.3" width="5.5" height="2.2" rx="1" fill="#000"/>
<path d="M358.15 398.3L361.55 398.3L360.75 399.1L358.95 399.1Z" fill="#000"/>
<rect x="367.8" y="340.8" width="7.9" height="129" fill="#000"/>
<line x1="371.75" y1="341.3" x2="371.75" y2="340.2" stroke="#000" stroke-width="1.8"/>
<rect x="369" y="339.1" width="5.5" height="2.2" rx="1" fill="#000"/>
<path d="M370.05 341.1L373.45 341.1L372.65 341.9L370.85 341.9Z" fill="#000"/>
<rect x="376.7" y="391.4" width="6.3" height="77.5" fill="#d4d4d4" stroke="#111" stroke-width="1.8"/>
<line x1="379.85" y1="391" x2="379.85" y2="389.4" stroke="#000" stroke-width="1.8"/>
<rect x="377.1" y="388.3" width="5.5" height="2.2" rx="1" fill="#000"/>
<path d="M378.15 390.3L381.55 390.3L380.75 391.1L378.95 391.1Z" fill="#000"/>
<rect x="387.8" y="353.4" width="7.9" height="116.4" fill="#000"/>
<line x1="391.75" y1="353.9" x2="391.75" y2="347.9" stroke="#000" stroke-width="1.8"/>
<rect x="389" y="346.8" width="5.5" height="2.2" rx="1" fill="#000"/>
<path d="M390.05 348.8L393.45 348.8L392.65 349.6L390.85 349.6Z" fill="#000"/>
<rect x="396.7" y="419" width="6.3" height="49.9" fill="#d4d4d4" stroke="#111" stroke-width="1.8"/>
<line x1="399.85" y1="418.6" x2="399.85" y2="417.5" stroke="#000" stroke-width="1.8"/>
<rect x="397.1" y="416.4" width="5.5" height="2.2" rx="1" fill="#000"/>
<path d="M398.15 418.4L401.55 418.4L400.75 419.2L398.95 419.2Z" fill="#000"/>
<rect x="407.8" y="332.8" width="7.9" height="137" fill="#000"/>
<line x1="411.75" y1="333.3" x2="411.75" y2="326.4" stroke="#000" stroke-width="1.8"/>
<rect x="409" y="325.3" width="5.5" height="2.2" rx="1" fill="#000"/>
<path d="M410.05 327.3L413.45 327.3L412.65 328.1L410.85 328.1Z" fill="#000"/>
<rect x="416.7" y="402.7" width="6.3" height="66.2" fill="#d4d4d4" stroke="#111" stroke-width="1.8"/>
<line x1="419.85" y1="402.3" x2="419.85" y2="391.6" stroke="#000" stroke-width="1.8"/>
<rect x="417.1" y="390.5" width="5.5" height="2.2" rx="1" fill="#000"/>
<path d="M418.15 392.5L421.55 392.5L420.75 393.3L418.95 393.3Z" fill="#000"/>
<rect x="427.8" y="415.1" width="7.9" height="54.7" fill="#000"/>
<line x1="431.75" y1="415.6" x2="431.75" y2="412.9" stroke="#000" stroke-width="1.8"/>
<rect x="429" y="411.8" width="5.5" height="2.2" rx="1" fill="#000"/>
<path d="M430.05 413.8L433.45 413.8L432.65 414.6L430.85 414.6Z" fill="#000"/>
<rect x="436.7" y="338.7" width="6.3" height="130.2" fill="#d4d4d4" stroke="#111" stroke-width="1.8"/>
<line x1="439.85" y1="338.3" x2="439.85" y2="328.4" stroke="#000" stroke-width="1.8"/>
<rect x="437.1" y="327.3" width="5.5" height="2.2" rx="1" fill="#000"/>
<path d="M438.15 329.3L441.55 329.3L440.75 330.1L438.95 330.1Z" fill="#000"/>
<rect x="447.8" y="296.4" width="7.9" height="173.4" fill="#000"/>
<line x1="451.75" y1="296.9" x2="451.75" y2="293.2" stroke="#000" stroke-width="1.8"/>
<rect x="449" y="292.1" width="5.5" height="2.2" rx="1" fill="#000"/>
<path d="M450.05 294.1L453.45 294.1L452.65 294.9L450.85 294.9Z" fill="#000"/>
<rect x="456.7" y="434.6" width="6.3" height="34.3" fill="#d4d4d4" stroke="#111" stroke-width="1.8"/>
<line x1="459.85" y1="434.2" x2="459.85" y2="430" stroke="#000" stroke-width="1.8"/>
<rect x="457.1" y="428.9" width="5.5" height="2.2" rx="1" fill="#000"/>
<path d="M458.15 430.9L461.55 430.9L460.75 431.7L458.95 431.7Z" fill="#000"/>
<rect x="467.8" y="364.9" width="7.9" height="104.9" fill="#000"/>
<line x1="471.75" y1="365.4" x2="471.75" y2="355.5" stroke="#000" stroke-width="1.8"/>
<rect x="469" y="354.4" width="5.5" height="2.2" rx="1" fill="#000"/>
<path d="M470.05 356.4L473.45 356.4L472.65 357.2L470.85 357.2Z" fill="#000"/>
<rect x="476.7" y="386.4" width="6.3" height="82.5" fill="#d4d4d4" stroke="#111" stroke-width="1.8"/>
<line x1="479.85" y1="386" x2="479.85" y2="383.6" stroke="#000" stroke-width="1.8"/>
<rect x="477.1" y="382.5" width="5.5" height="2.2" rx="1" fill="#000"/>
<path d="M478.15 384.5L481.55 384.5L480.75 385.3L478.95 385.3Z" fill="#000"/>
<rect x="487.8" y="358.4" width="7.9" height="111.4" fill="#000"/>
<line x1="491.75" y1="358.9" x2="491.75" y2="356" stroke="#000" stroke-width="1.8"/>
<rect x="489" y="354.9" width="5.5" height="2.2" rx="1" fill="#000"/>
<path d="M490.05 356.9L493.45 356.9L492.65 357.7L490.85 357.7Z" fill="#000"/>
<rect x="496.7" y="365.1" width="6.3" height="103.8" fill="#d4d4d4" stroke="#111" stroke-width="1.8"/>
<line x1="499.85" y1="364.7" x2="499.85" y2="363.6" stroke="#000" stroke-width="1.8"/>
<rect x="497.1" y="362.5" width="5.5" height="2.2" rx="1" fill="#000"/>
<path d="M498.15 364.5L501.55 364.5L500.75 365.3L498.95 365.3Z" fill="#000"/>
<line x1="41" y1="469.8" x2="508" y2="469.8" stroke="#000" stroke-width="1.8"/>
<line x1="55.6" y1="469.8" x2="55.6" y2="474.3" stroke="#000" stroke-width="1.5"/>
<text x="58.8" y="483.8" class="xl" text-anchor="end" transform="rotate(-45 58.8 483.8)">MC5</text>
<line x1="75.6" y1="469.8" x2="75.6" y2="474.3" stroke="#000" stroke-width="1.5"/>
<text x="78.8" y="483.8" class="xl" text-anchor="end" transform="rotate(-45 78.8 483.8)">MC19</text>
<line x1="95.6" y1="469.8" x2="95.6" y2="474.3" stroke="#000" stroke-width="1.5"/>
<text x="98.8" y="483.8" class="xl" text-anchor="end" transform="rotate(-45 98.8 483.8)">MC11</text>
<line x1="115.6" y1="469.8" x2="115.6" y2="474.3" stroke="#000" stroke-width="1.5"/>
<text x="118.8" y="483.8" class="xl" text-anchor="end" transform="rotate(-45 118.8 483.8)">MC20</text>
<line x1="135.6" y1="469.8" x2="135.6" y2="474.3" stroke="#000" stroke-width="1.5"/>
<text x="138.8" y="483.8" class="xl" text-anchor="end" transform="rotate(-45 138.8 483.8)">MC4</text>
<line x1="155.6" y1="469.8" x2="155.6" y2="474.3" stroke="#000" stroke-width="1.5"/>
<text x="158.8" y="483.8" class="xl" text-anchor="end" transform="rotate(-45 158.8 483.8)">MC17</text>
<line x1="175.6" y1="469.8" x2="175.6" y2="474.3" stroke="#000" stroke-width="1.5"/>
<text x="178.8" y="483.8" class="xl" text-anchor="end" transform="rotate(-45 178.8 483.8)">MC2</text>
<line x1="195.6" y1="469.8" x2="195.6" y2="474.3" stroke="#000" stroke-width="1.5"/>
<text x="198.8" y="483.8" class="xl" text-anchor="end" transform="rotate(-45 198.8 483.8)">MC22</text>
<line x1="215.6" y1="469.8" x2="215.6" y2="474.3" stroke="#000" stroke-width="1.5"/>
<text x="218.8" y="483.8" class="xl" text-anchor="end" transform="rotate(-45 218.8 483.8)">MC27</text>
<line x1="235.6" y1="469.8" x2="235.6" y2="474.3" stroke="#000" stroke-width="1.5"/>
<text x="238.8" y="483.8" class="xl" text-anchor="end" transform="rotate(-45 238.8 483.8)">MC28</text>
<line x1="255.6" y1="469.8" x2="255.6" y2="474.3" stroke="#000" stroke-width="1.5"/>
<text x="258.8" y="483.8" class="xl" text-anchor="end" transform="rotate(-45 258.8 483.8)">MC16</text>
<line x1="275.6" y1="469.8" x2="275.6" y2="474.3" stroke="#000" stroke-width="1.5"/>
<text x="278.8" y="483.8" class="xl" text-anchor="end" transform="rotate(-45 278.8 483.8)">MC25</text>
<line x1="295.6" y1="469.8" x2="295.6" y2="474.3" stroke="#000" stroke-width="1.5"/>
<text x="298.8" y="483.8" class="xl" text-anchor="end" transform="rotate(-45 298.8 483.8)">MC1</text>
<line x1="315.6" y1="469.8" x2="315.6" y2="474.3" stroke="#000" stroke-width="1.5"/>
<text x="318.8" y="483.8" class="xl" text-anchor="end" transform="rotate(-45 318.8 483.8)">MC7</text>
<line x1="335.6" y1="469.8" x2="335.6" y2="474.3" stroke="#000" stroke-width="1.5"/>
<text x="338.8" y="483.8" class="xl" text-anchor="end" transform="rotate(-45 338.8 483.8)">MC6</text>
<line x1="355.6" y1="469.8" x2="355.6" y2="474.3" stroke="#000" stroke-width="1.5"/>
<text x="358.8" y="483.8" class="xl" text-anchor="end" transform="rotate(-45 358.8 483.8)">MC13</text>
<line x1="375.6" y1="469.8" x2="375.6" y2="474.3" stroke="#000" stroke-width="1.5"/>
<text x="378.8" y="483.8" class="xl" text-anchor="end" transform="rotate(-45 378.8 483.8)">MC9</text>
<line x1="395.6" y1="469.8" x2="395.6" y2="474.3" stroke="#000" stroke-width="1.5"/>
<text x="398.8" y="483.8" class="xl" text-anchor="end" transform="rotate(-45 398.8 483.8)">MC8</text>
<line x1="415.6" y1="469.8" x2="415.6" y2="474.3" stroke="#000" stroke-width="1.5"/>
<text x="418.8" y="483.8" class="xl" text-anchor="end" transform="rotate(-45 418.8 483.8)">MC23</text>
<line x1="435.6" y1="469.8" x2="435.6" y2="474.3" stroke="#000" stroke-width="1.5"/>
<text x="438.8" y="483.8" class="xl" text-anchor="end" transform="rotate(-45 438.8 483.8)">MC21</text>
<line x1="455.6" y1="469.8" x2="455.6" y2="474.3" stroke="#000" stroke-width="1.5"/>
<text x="458.8" y="483.8" class="xl" text-anchor="end" transform="rotate(-45 458.8 483.8)">MC14</text>
<line x1="475.6" y1="469.8" x2="475.6" y2="474.3" stroke="#000" stroke-width="1.5"/>
<text x="478.8" y="483.8" class="xl" text-anchor="end" transform="rotate(-45 478.8 483.8)">MC3</text>
<line x1="495.6" y1="469.8" x2="495.6" y2="474.3" stroke="#000" stroke-width="1.5"/>
<text x="498.8" y="483.8" class="xl" text-anchor="end" transform="rotate(-45 498.8 483.8)">30F53</text>
<rect x="57.2" y="277.5" width="16.2" height="9" fill="#000"/>
<text x="82.2" y="286.5" class="lg" style="font-size:11.5px">Lutein</text>
<rect x="57.8" y="301.8" width="15.0" height="7.8" fill="#d4d4d4" stroke="#222" stroke-width="1.2"/>
<text x="82.2" y="310.2" class="lg" style="font-size:11.5px">Zeaxanthin</text>
<text x="273.7" y="516.8" class="at" text-anchor="middle" style="font-size:11.55px">Maize landraces</text>
<text class="pl" transform="translate(3 498.4) scale(0.94 1)">c</text>
<text x="24.8" y="372" class="yt" text-anchor="middle" transform="rotate(-90 24.8 372)">µg g<tspan class="sup" dy="-6.6">-1</tspan><tspan dy="6.6"></tspan></text>
<line x1="557.9" y1="273.45" x2="557.9" y2="468.6" stroke="#000" stroke-width="1.5"/>
<line x1="553.4" y1="468.6" x2="557.9" y2="468.6" stroke="#000" stroke-width="1.5"/>
<text x="552.1" y="472.5" class="tk" text-anchor="end">0</text>
<line x1="553.4" y1="444.3" x2="557.9" y2="444.3" stroke="#000" stroke-width="1.5"/>
<text x="552.1" y="448.2" class="tk" text-anchor="end">10</text>
<line x1="553.4" y1="420" x2="557.9" y2="420" stroke="#000" stroke-width="1.5"/>
<text x="552.1" y="423.9" class="tk" text-anchor="end">20</text>
<line x1="553.4" y1="395.7" x2="557.9" y2="395.7" stroke="#000" stroke-width="1.5"/>
<text x="552.1" y="399.6" class="tk" text-anchor="end">30</text>
<line x1="553.4" y1="371.4" x2="557.9" y2="371.4" stroke="#000" stroke-width="1.5"/>
<text x="552.1" y="375.3" class="tk" text-anchor="end">40</text>
<line x1="553.4" y1="347.1" x2="557.9" y2="347.1" stroke="#000" stroke-width="1.5"/>
<text x="552.1" y="351" class="tk" text-anchor="end">50</text>
<line x1="553.4" y1="322.8" x2="557.9" y2="322.8" stroke="#000" stroke-width="1.5"/>
<text x="552.1" y="326.7" class="tk" text-anchor="end">60</text>
<line x1="553.4" y1="298.5" x2="557.9" y2="298.5" stroke="#000" stroke-width="1.5"/>
<text x="552.1" y="302.4" class="tk" text-anchor="end">70</text>
<line x1="553.4" y1="274.2" x2="557.9" y2="274.2" stroke="#000" stroke-width="1.5"/>
<text x="552.1" y="278.1" class="tk" text-anchor="end">80</text>
<rect x="560.4" y="443.5" width="14.4" height="25.1" fill="#000"/>
<line x1="567.6" y1="444" x2="567.6" y2="442.9" stroke="#000" stroke-width="1.8"/>
<rect x="563.35" y="441.8" width="8.5" height="2.2" rx="1" fill="#000"/>
<path d="M565.9 443.8L569.3 443.8L568.5 444.6L566.7 444.6Z" fill="#000"/>
<rect x="580.3" y="436.9" width="14.4" height="31.7" fill="#000"/>
<line x1="587.5" y1="437.4" x2="587.5" y2="435.1" stroke="#000" stroke-width="1.8"/>
<rect x="583.25" y="434" width="8.5" height="2.2" rx="1" fill="#000"/>
<path d="M585.8 436L589.2 436L588.4 436.8L586.6 436.8Z" fill="#000"/>
<rect x="600.2" y="437" width="14.4" height="31.6" fill="#000"/>
<line x1="607.4" y1="437.5" x2="607.4" y2="436.4" stroke="#000" stroke-width="1.8"/>
<rect x="603.15" y="435.3" width="8.5" height="2.2" rx="1" fill="#000"/>
<path d="M605.7 437.3L609.1 437.3L608.3 438.1L606.5 438.1Z" fill="#000"/>
<rect x="620.1" y="435.2" width="14.4" height="33.4" fill="#000"/>
<line x1="627.3" y1="435.7" x2="627.3" y2="434.6" stroke="#000" stroke-width="1.8"/>
<rect x="623.05" y="433.5" width="8.5" height="2.2" rx="1" fill="#000"/>
<path d="M625.6 435.5L629 435.5L628.2 436.3L626.4 436.3Z" fill="#000"/>
<rect x="640" y="412.3" width="14.4" height="56.3" fill="#000"/>
<line x1="647.2" y1="412.8" x2="647.2" y2="406.9" stroke="#000" stroke-width="1.8"/>
<rect x="642.95" y="405.8" width="8.5" height="2.2" rx="1" fill="#000"/>
<path d="M645.5 407.8L648.9 407.8L648.1 408.6L646.3 408.6Z" fill="#000"/>
<rect x="659.9" y="406.8" width="14.4" height="61.8" fill="#000"/>
<line x1="667.1" y1="407.3" x2="667.1" y2="405.6" stroke="#000" stroke-width="1.8"/>
<rect x="662.85" y="404.5" width="8.5" height="2.2" rx="1" fill="#000"/>
<path d="M665.4 406.5L668.8 406.5L668 407.3L666.2 407.3Z" fill="#000"/>
<rect x="679.8" y="405.1" width="14.4" height="63.5" fill="#000"/>
<line x1="687" y1="405.6" x2="687" y2="404.4" stroke="#000" stroke-width="1.8"/>
<rect x="682.75" y="403.3" width="8.5" height="2.2" rx="1" fill="#000"/>
<path d="M685.3 405.3L688.7 405.3L687.9 406.1L686.1 406.1Z" fill="#000"/>
<rect x="699.7" y="408.1" width="14.4" height="60.5" fill="#000"/>
<line x1="706.9" y1="408.6" x2="706.9" y2="404.2" stroke="#000" stroke-width="1.8"/>
<rect x="702.65" y="403.1" width="8.5" height="2.2" rx="1" fill="#000"/>
<path d="M705.2 405.1L708.6 405.1L707.8 405.9L706 405.9Z" fill="#000"/>
<rect x="719.6" y="400" width="14.4" height="68.6" fill="#000"/>
<line x1="726.8" y1="400.5" x2="726.8" y2="397.4" stroke="#000" stroke-width="1.8"/>
<rect x="722.55" y="396.3" width="8.5" height="2.2" rx="1" fill="#000"/>
<path d="M725.1 398.3L728.5 398.3L727.7 399.1L725.9 399.1Z" fill="#000"/>
<rect x="739.5" y="398.8" width="14.4" height="69.8" fill="#000"/>
<line x1="746.7" y1="399.3" x2="746.7" y2="397.9" stroke="#000" stroke-width="1.8"/>
<rect x="742.45" y="396.8" width="8.5" height="2.2" rx="1" fill="#000"/>
<path d="M745 398.8L748.4 398.8L747.6 399.6L745.8 399.6Z" fill="#000"/>
<rect x="759.4" y="385.5" width="14.4" height="83.1" fill="#000"/>
<line x1="766.6" y1="386" x2="766.6" y2="384.9" stroke="#000" stroke-width="1.8"/>
<rect x="762.35" y="383.8" width="8.5" height="2.2" rx="1" fill="#000"/>
<path d="M764.9 385.8L768.3 385.8L767.5 386.6L765.7 386.6Z" fill="#000"/>
<rect x="779.3" y="375" width="14.4" height="93.6" fill="#000"/>
<line x1="786.5" y1="375.5" x2="786.5" y2="373.6" stroke="#000" stroke-width="1.8"/>
<rect x="782.25" y="372.5" width="8.5" height="2.2" rx="1" fill="#000"/>
<path d="M784.8 374.5L788.2 374.5L787.4 375.3L785.6 375.3Z" fill="#000"/>
<rect x="799.2" y="376.7" width="14.4" height="91.9" fill="#000"/>
<line x1="806.4" y1="377.2" x2="806.4" y2="373.6" stroke="#000" stroke-width="1.8"/>
<rect x="802.15" y="372.5" width="8.5" height="2.2" rx="1" fill="#000"/>
<path d="M804.7 374.5L808.1 374.5L807.3 375.3L805.5 375.3Z" fill="#000"/>
<rect x="819.1" y="368.4" width="14.4" height="100.2" fill="#000"/>
<line x1="826.3" y1="368.9" x2="826.3" y2="364.8" stroke="#000" stroke-width="1.8"/>
<rect x="822.05" y="363.7" width="8.5" height="2.2" rx="1" fill="#000"/>
<path d="M824.6 365.7L828 365.7L827.2 366.5L825.4 366.5Z" fill="#000"/>
<rect x="839" y="362.4" width="14.4" height="106.2" fill="#000"/>
<line x1="846.2" y1="362.9" x2="846.2" y2="359.7" stroke="#000" stroke-width="1.8"/>
<rect x="841.95" y="358.6" width="8.5" height="2.2" rx="1" fill="#000"/>
<path d="M844.5 360.6L847.9 360.6L847.1 361.4L845.3 361.4Z" fill="#000"/>
<rect x="858.9" y="353.4" width="14.4" height="115.2" fill="#000"/>
<line x1="866.1" y1="353.9" x2="866.1" y2="351" stroke="#000" stroke-width="1.8"/>
<rect x="861.85" y="349.9" width="8.5" height="2.2" rx="1" fill="#000"/>
<path d="M864.4 351.9L867.8 351.9L867 352.7L865.2 352.7Z" fill="#000"/>
<rect x="878.8" y="352.4" width="14.4" height="116.2" fill="#000"/>
<line x1="886" y1="352.9" x2="886" y2="345.9" stroke="#000" stroke-width="1.8"/>
<rect x="881.75" y="344.8" width="8.5" height="2.2" rx="1" fill="#000"/>
<path d="M884.3 346.8L887.7 346.8L886.9 347.6L885.1 347.6Z" fill="#000"/>
<rect x="898.7" y="346.6" width="14.4" height="122" fill="#000"/>
<line x1="905.9" y1="347.1" x2="905.9" y2="346" stroke="#000" stroke-width="1.8"/>
<rect x="901.65" y="344.9" width="8.5" height="2.2" rx="1" fill="#000"/>
<path d="M904.2 346.9L907.6 346.9L906.8 347.7L905 347.7Z" fill="#000"/>
<rect x="918.6" y="331.5" width="14.4" height="137.1" fill="#000"/>
<line x1="925.8" y1="332" x2="925.8" y2="330.6" stroke="#000" stroke-width="1.8"/>
<rect x="921.55" y="329.5" width="8.5" height="2.2" rx="1" fill="#000"/>
<path d="M924.1 331.5L927.5 331.5L926.7 332.3L924.9 332.3Z" fill="#000"/>
<rect x="938.5" y="322" width="14.4" height="146.6" fill="#000"/>
<line x1="945.7" y1="322.5" x2="945.7" y2="321.4" stroke="#000" stroke-width="1.8"/>
<rect x="941.45" y="320.3" width="8.5" height="2.2" rx="1" fill="#000"/>
<path d="M944 322.3L947.4 322.3L946.6 323.1L944.8 323.1Z" fill="#000"/>
<rect x="958.4" y="319.5" width="14.4" height="149.1" fill="#000"/>
<line x1="965.6" y1="320" x2="965.6" y2="316.3" stroke="#000" stroke-width="1.8"/>
<rect x="961.35" y="315.2" width="8.5" height="2.2" rx="1" fill="#000"/>
<path d="M963.9 317.2L967.3 317.2L966.5 318L964.7 318Z" fill="#000"/>
<rect x="978.3" y="318.5" width="14.4" height="150.1" fill="#000"/>
<line x1="985.5" y1="319" x2="985.5" y2="313.8" stroke="#000" stroke-width="1.8"/>
<rect x="981.25" y="312.7" width="8.5" height="2.2" rx="1" fill="#000"/>
<path d="M983.8 314.7L987.2 314.7L986.4 315.5L984.6 315.5Z" fill="#000"/>
<rect x="998.2" y="307.2" width="14.4" height="161.4" fill="#000"/>
<line x1="1005.4" y1="307.7" x2="1005.4" y2="305.8" stroke="#000" stroke-width="1.8"/>
<rect x="1001.15" y="304.7" width="8.5" height="2.2" rx="1" fill="#000"/>
<path d="M1003.7 306.7L1007.1 306.7L1006.3 307.5L1004.5 307.5Z" fill="#000"/>
<line x1="553.3" y1="468.6" x2="1019.5" y2="468.6" stroke="#000" stroke-width="1.8"/>
<line x1="567.6" y1="468.6" x2="567.6" y2="473.1" stroke="#000" stroke-width="1.5"/>
<text x="570.8" y="482.6" class="xl" text-anchor="end" transform="rotate(-45 570.8 482.6)">MC5</text>
<line x1="587.5" y1="468.6" x2="587.5" y2="473.1" stroke="#000" stroke-width="1.5"/>
<text x="590.7" y="482.6" class="xl" text-anchor="end" transform="rotate(-45 590.7 482.6)">MC19</text>
<line x1="607.4" y1="468.6" x2="607.4" y2="473.1" stroke="#000" stroke-width="1.5"/>
<text x="610.6" y="482.6" class="xl" text-anchor="end" transform="rotate(-45 610.6 482.6)">MC11</text>
<line x1="627.3" y1="468.6" x2="627.3" y2="473.1" stroke="#000" stroke-width="1.5"/>
<text x="630.5" y="482.6" class="xl" text-anchor="end" transform="rotate(-45 630.5 482.6)">MC20</text>
<line x1="647.2" y1="468.6" x2="647.2" y2="473.1" stroke="#000" stroke-width="1.5"/>
<text x="650.4" y="482.6" class="xl" text-anchor="end" transform="rotate(-45 650.4 482.6)">MC4</text>
<line x1="667.1" y1="468.6" x2="667.1" y2="473.1" stroke="#000" stroke-width="1.5"/>
<text x="670.3" y="482.6" class="xl" text-anchor="end" transform="rotate(-45 670.3 482.6)">MC17</text>
<line x1="687" y1="468.6" x2="687" y2="473.1" stroke="#000" stroke-width="1.5"/>
<text x="690.2" y="482.6" class="xl" text-anchor="end" transform="rotate(-45 690.2 482.6)">MC2</text>
<line x1="706.9" y1="468.6" x2="706.9" y2="473.1" stroke="#000" stroke-width="1.5"/>
<text x="710.1" y="482.6" class="xl" text-anchor="end" transform="rotate(-45 710.1 482.6)">MC22</text>
<line x1="726.8" y1="468.6" x2="726.8" y2="473.1" stroke="#000" stroke-width="1.5"/>
<text x="730" y="482.6" class="xl" text-anchor="end" transform="rotate(-45 730 482.6)">MC27</text>
<line x1="746.7" y1="468.6" x2="746.7" y2="473.1" stroke="#000" stroke-width="1.5"/>
<text x="749.9" y="482.6" class="xl" text-anchor="end" transform="rotate(-45 749.9 482.6)">MC28</text>
<line x1="766.6" y1="468.6" x2="766.6" y2="473.1" stroke="#000" stroke-width="1.5"/>
<text x="769.8" y="482.6" class="xl" text-anchor="end" transform="rotate(-45 769.8 482.6)">MC16</text>
<line x1="786.5" y1="468.6" x2="786.5" y2="473.1" stroke="#000" stroke-width="1.5"/>
<text x="789.7" y="482.6" class="xl" text-anchor="end" transform="rotate(-45 789.7 482.6)">MC25</text>
<line x1="806.4" y1="468.6" x2="806.4" y2="473.1" stroke="#000" stroke-width="1.5"/>
<text x="809.6" y="482.6" class="xl" text-anchor="end" transform="rotate(-45 809.6 482.6)">MC1</text>
<line x1="826.3" y1="468.6" x2="826.3" y2="473.1" stroke="#000" stroke-width="1.5"/>
<text x="829.5" y="482.6" class="xl" text-anchor="end" transform="rotate(-45 829.5 482.6)">MC7</text>
<line x1="846.2" y1="468.6" x2="846.2" y2="473.1" stroke="#000" stroke-width="1.5"/>
<text x="849.4" y="482.6" class="xl" text-anchor="end" transform="rotate(-45 849.4 482.6)">MC6</text>
<line x1="866.1" y1="468.6" x2="866.1" y2="473.1" stroke="#000" stroke-width="1.5"/>
<text x="869.3" y="482.6" class="xl" text-anchor="end" transform="rotate(-45 869.3 482.6)">MC13</text>
<line x1="886" y1="468.6" x2="886" y2="473.1" stroke="#000" stroke-width="1.5"/>
<text x="889.2" y="482.6" class="xl" text-anchor="end" transform="rotate(-45 889.2 482.6)">MC9</text>
<line x1="905.9" y1="468.6" x2="905.9" y2="473.1" stroke="#000" stroke-width="1.5"/>
<text x="909.1" y="482.6" class="xl" text-anchor="end" transform="rotate(-45 909.1 482.6)">MC8</text>
<line x1="925.8" y1="468.6" x2="925.8" y2="473.1" stroke="#000" stroke-width="1.5"/>
<text x="929" y="482.6" class="xl" text-anchor="end" transform="rotate(-45 929 482.6)">MC23</text>
<line x1="945.7" y1="468.6" x2="945.7" y2="473.1" stroke="#000" stroke-width="1.5"/>
<text x="948.9" y="482.6" class="xl" text-anchor="end" transform="rotate(-45 948.9 482.6)">MC21</text>
<line x1="965.6" y1="468.6" x2="965.6" y2="473.1" stroke="#000" stroke-width="1.5"/>
<text x="968.8" y="482.6" class="xl" text-anchor="end" transform="rotate(-45 968.8 482.6)">MC14</text>
<line x1="985.5" y1="468.6" x2="985.5" y2="473.1" stroke="#000" stroke-width="1.5"/>
<text x="988.7" y="482.6" class="xl" text-anchor="end" transform="rotate(-45 988.7 482.6)">MC3</text>
<line x1="1005.4" y1="468.6" x2="1005.4" y2="473.1" stroke="#000" stroke-width="1.5"/>
<text x="1008.6" y="482.6" class="xl" text-anchor="end" transform="rotate(-45 1008.6 482.6)">30F53</text>
<rect x="582.6" y="278.8" width="16.2" height="9" fill="#000"/>
<text x="607.6" y="287.8" class="lg" style="font-size:11.65px">Total Carotenoid</text>
<text x="784.0" y="514.5" class="at" text-anchor="middle" style="font-size:11.45px">Maize landraces</text>
<text class="pl" transform="translate(520.3 498.6) scale(0.94 1)">d</text>
<text x="534" y="371.2" class="yt" text-anchor="middle" transform="rotate(-90 534 371.2)">µg g<tspan class="sup" dy="-6.6">-1</tspan><tspan dy="6.6"> β-carotene equivalent</tspan></text>
</svg>
</body></html>
